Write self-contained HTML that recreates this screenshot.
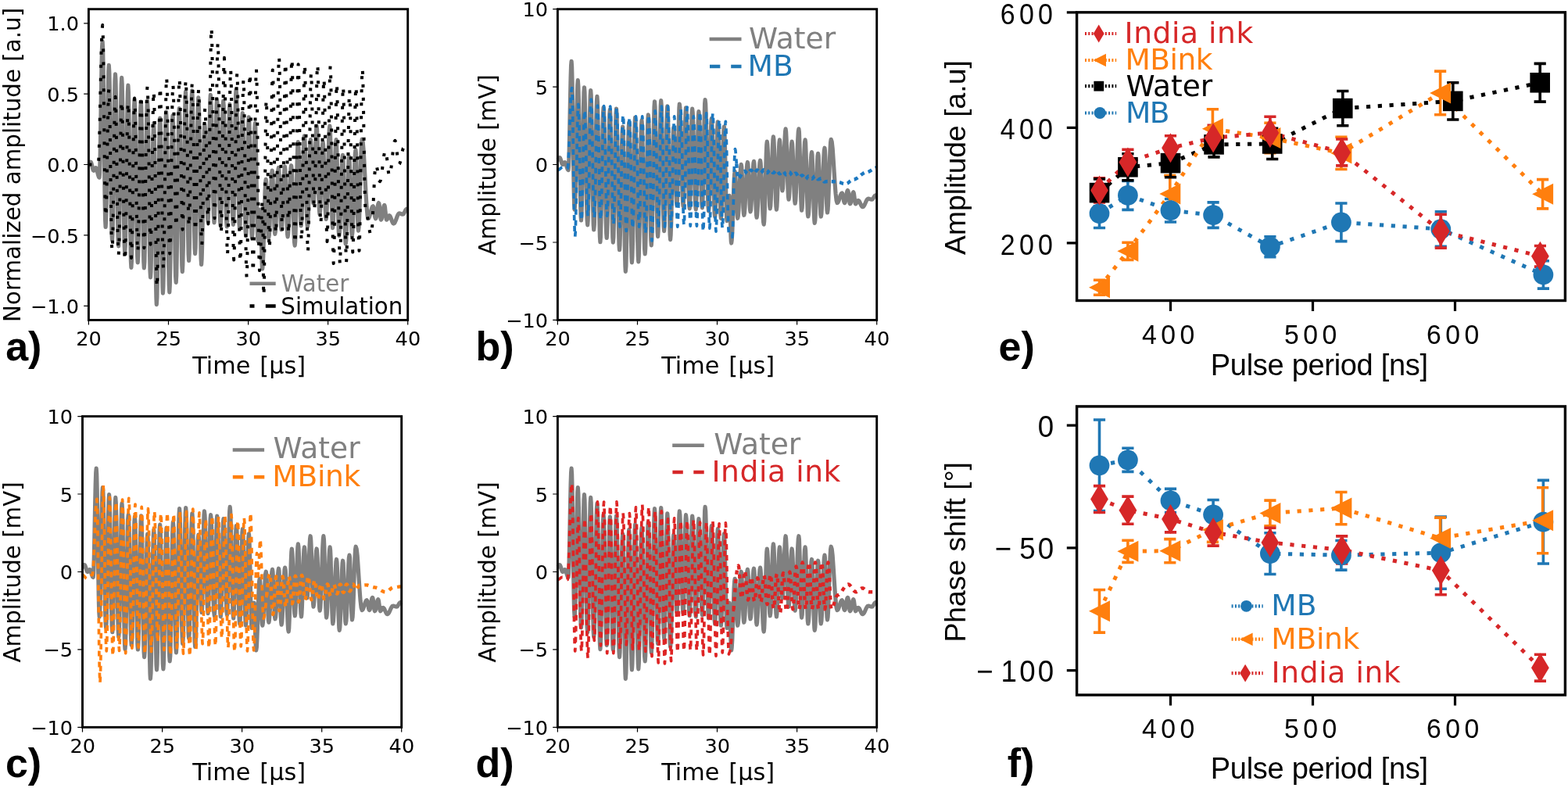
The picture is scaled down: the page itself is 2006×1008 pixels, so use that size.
<!DOCTYPE html>
<html lang="en"><head><meta charset="utf-8"><title>Figure</title>
<style>html,body{margin:0;padding:0;background:#fff}body{width:2006px;height:1008px;overflow:hidden}svg{display:block}</style>
</head><body>
<svg width="2006" height="1008" viewBox="0 0 2006 1008">
<g id="pa">
<path d="M113.4,210.9L113.7,210.7L114,210.3L114.3,209.7L114.6,209L114.9,208.3L115.2,207.7L115.5,207.3L115.8,207.1L116.4,207.6L116.9,208.8L117.4,210.6L117.9,212.7L118.4,214.9L118.9,216.7L119.4,217.9L119.9,218.3L120.3,218.2L120.6,217.8L120.9,217.2L121.3,216.5L121.6,215.7L121.9,215.1L122.3,214.7L122.6,214.6L123.1,215.1L123.7,216.4L124.3,218.4L124.8,220.8L125.4,223.2L126,225.2L126.5,226.6L127.1,227L127.6,220.4L128.1,201.5L128.6,173.3L129.1,140L129.6,106.6L130.1,78.4L130.6,59.5L131.1,52.9L131.6,61.9L132.1,87.7L132.6,126.2L133.1,171.7L133.6,217.1L134.1,255.7L134.6,281.4L135.1,290.5L135.6,282.6L136.2,260.1L136.7,226.5L137.2,186.9L137.7,147.2L138.3,113.6L138.8,91.2L139.3,83.3L139.8,91.8L140.4,116.1L140.9,152.5L141.4,195.5L141.9,238.4L142.5,274.8L143,299.2L143.5,307.7L144,299.6L144.5,276.5L145,242L145.5,201.3L146,160.5L146.5,126L147,102.9L147.5,94.8L148,103.2L148.5,127L149,162.7L149.6,204.9L150.1,247L150.6,282.7L151.1,306.5L151.7,314.9L152.2,306.7L152.7,283.3L153.2,248.4L153.7,207.1L154.2,165.9L154.7,130.9L155.2,107.6L155.7,99.4L156.2,107.9L156.7,132.1L157.2,168.3L157.7,211.1L158.2,253.8L158.7,290.1L159.2,314.3L159.7,322.8L160.3,314.6L160.8,291.5L161.3,256.8L161.8,216L162.3,175.1L162.9,140.5L163.4,117.3L163.9,109.2L164.4,118.1L164.9,143.4L165.4,181.2L165.9,225.8L166.4,270.4L166.9,308.3L167.4,333.5L167.9,342.4L168.4,334.2L168.9,310.8L169.5,275.9L170,234.6L170.5,193.4L171,158.4L171.6,135.1L172.1,126.9L172.6,134.8L173.1,157.5L173.6,191.4L174.1,231.4L174.6,271.4L175.1,305.3L175.7,327.9L176.2,335.9L176.7,328L177.2,305.7L177.7,272.4L178.3,233L178.8,193.7L179.3,160.3L179.8,138L180.4,130.2L180.8,138.3L181.3,161.3L181.8,195.8L182.3,236.5L182.8,277.2L183.3,311.7L183.8,334.7L184.3,342.8L184.9,334.7L185.4,311.5L185.9,276.8L186.4,235.8L186.9,194.9L187.5,160.2L188,137L188.5,128.9L189,137.5L189.5,161.9L190,198.6L190.5,241.8L191,285.1L191.5,321.8L192,346.2L192.5,354.8L193,347.3L193.5,326L194.1,294L194.6,256.3L195.1,218.5L195.6,186.5L196.2,165.2L196.7,157.7L197.1,166.5L197.6,191.6L198.1,229.2L198.5,273.6L199,318L199.4,355.6L199.9,380.7L200.3,389.6L200.9,380.5L201.4,354.6L202,316L202.5,270.3L203.1,224.7L203.6,186L204.2,160.2L204.7,151.1L205.2,159.6L205.7,183.9L206.1,220.3L206.6,263.1L207,306L207.5,342.3L208,366.6L208.4,375.1L208.9,366.3L209.5,341.1L210,303.5L210.5,259.1L211,214.6L211.5,177L212.1,151.8L212.6,143L213.1,151.8L213.6,176.8L214.2,214.2L214.7,258.4L215.2,302.6L215.7,340L216.3,365.1L216.8,373.8L217.3,365.2L217.8,340.7L218.4,304.1L218.9,260.8L219.4,217.6L219.9,180.9L220.4,156.4L221,147.8L221.5,156L222,179.1L222.5,213.8L223.1,254.6L223.6,295.5L224.1,330.1L224.6,353.3L225.2,361.4L225.7,352.9L226.2,328.8L226.7,292.7L227.3,250L227.8,207.4L228.3,171.3L228.8,147.1L229.3,138.7L229.8,146.6L230.3,169.3L230.8,203.2L231.3,243.2L231.8,283.1L232.3,317L232.8,339.7L233.3,347.6L233.8,338.9L234.4,313.9L234.9,276.6L235.4,232.5L235.9,188.4L236.5,151.1L237,126.1L237.5,117.3L238,125.6L238.5,149L239,184.1L239.6,225.4L240.1,266.8L240.6,301.8L241.1,325.3L241.6,333.5L242.1,325.2L242.6,301.6L243.1,266.3L243.6,224.6L244.1,183L244.7,147.6L245.2,124L245.7,115.8L246.2,123.7L246.6,146.4L247.1,180.3L247.6,220.2L248.1,260.2L248.6,294.1L249.1,316.8L249.6,324.7L250.1,317.1L250.6,295.5L251.2,263.1L251.7,224.8L252.2,186.6L252.8,154.2L253.3,132.5L253.8,124.9L254.3,133L254.8,156.2L255.3,190.8L255.7,231.7L256.2,272.6L256.7,307.2L257.1,330.4L257.6,338.5L258.1,331.6L258.7,312.2L259.2,283.1L259.7,248.7L260.2,214.4L260.8,185.3L261.3,165.8L261.8,159L262.3,163.7L262.8,177.2L263.4,197.4L263.9,221.2L264.4,245L264.9,265.2L265.5,278.7L266,283.5L266.4,277.3L266.8,259.7L267.2,233.4L267.7,202.4L268.1,171.3L268.5,145L268.9,127.4L269.3,121.3L269.9,127.5L270.5,145.2L271.1,171.7L271.7,203L272.3,234.3L272.9,260.8L273.5,278.6L274,284.8L274.5,278.8L274.9,261.7L275.3,236.2L275.8,206L276.2,175.9L276.6,150.3L277.1,133.3L277.5,127.3L278.1,133.4L278.7,150.9L279.3,177.1L279.9,208L280.4,238.9L281,265.1L281.6,282.6L282.2,288.7L282.6,282.6L283.1,265.3L283.5,239.5L283.9,208.9L284.4,178.4L284.8,152.5L285.2,135.2L285.7,129.1L286.2,135.2L286.8,152.7L287.4,178.8L288,209.6L288.5,240.4L289.1,266.5L289.7,283.9L290.3,290L290.7,284.1L291.2,267.1L291.7,241.7L292.1,211.7L292.6,181.8L293,156.4L293.5,139.4L293.9,133.4L294.5,139.3L295.1,156L295.6,181L296.2,210.4L296.8,239.9L297.3,264.9L297.9,281.5L298.4,287.4L298.9,280.8L299.4,262.1L299.8,234L300.3,200.9L300.7,167.8L301.2,139.8L301.6,121L302.1,114.4L302.7,121.2L303.2,140.5L303.8,169.4L304.4,203.5L304.9,237.6L305.5,266.5L306,285.9L306.6,292.6L307.1,287L307.5,271L308,246.9L308.4,218.6L308.9,190.3L309.4,166.3L309.8,150.2L310.3,144.6L310.8,150.6L311.4,167.6L311.9,193.1L312.5,223.2L313,253.3L313.6,278.8L314.1,295.8L314.7,301.8L315.1,296L315.6,279.5L316,254.9L316.5,225.8L317,196.7L317.4,172.1L317.9,155.6L318.3,149.8L318.8,155.7L319.4,172.4L319.9,197.5L320.4,227L320.9,256.6L321.4,281.7L321.9,298.4L322.4,304.3L322.9,298.7L323.4,282.8L323.9,259L324.4,231L324.9,202.9L325.4,179.1L325.9,163.2L326.4,157.6L326.8,163.4L327.3,179.7L327.7,204.2L328.2,233.1L328.7,261.9L329.1,286.4L329.6,302.8L330.1,308.5L330.4,307L330.8,302.6L331.2,296L331.6,288.3L332,280.6L332.3,274L332.7,269.6L333.1,268.1L333.4,271L333.7,279.2L334.1,291.5L334.4,306L334.7,320.5L335,332.8L335.3,341.1L335.7,343.9L336.2,339.6L336.8,327.2L337.3,308.6L337.9,286.7L338.5,264.8L339,246.2L339.6,233.8L340.2,229.4L340.6,232.3L341,240.4L341.5,252.5L341.9,266.9L342.4,281.2L342.8,293.3L343.3,301.4L343.7,304.3L344.3,301L344.9,291.7L345.4,277.6L346,261.1L346.5,244.6L347.1,230.6L347.7,221.3L348.2,218L348.7,221.1L349.1,229.9L349.6,243.1L350,258.7L350.5,274.3L350.9,287.5L351.4,296.3L351.8,299.4L352.4,296.1L353,286.9L353.5,273.2L354.1,256.9L354.7,240.7L355.3,226.9L355.8,217.7L356.4,214.5L356.9,217.5L357.3,226.1L357.8,238.9L358.2,254.1L358.7,269.3L359.1,282.2L359.6,290.8L360,293.8L360.6,290.7L361.1,282L361.7,268.9L362.2,253.4L362.8,238L363.4,224.9L363.9,216.1L364.5,213.1L364.9,216.5L365.4,226.2L365.8,240.8L366.3,258L366.7,275.2L367.2,289.7L367.6,299.5L368.1,302.9L368.6,299.4L369.2,289.5L369.8,274.7L370.3,257.3L370.9,239.8L371.4,225L372,215.1L372.6,211.7L373.1,215.6L373.7,226.7L374.3,243.3L374.9,262.9L375.4,282.5L376,299.1L376.6,310.2L377.2,314.1L377.7,309.1L378.2,294.7L378.7,273.2L379.2,247.8L379.8,222.4L380.3,200.9L380.8,186.5L381.3,181.5L381.8,185.6L382.3,197.2L382.8,214.6L383.3,235.2L383.8,255.7L384.3,273.1L384.7,284.8L385.2,288.9L385.8,284.5L386.3,272L386.8,253.3L387.3,231.3L387.8,209.3L388.4,190.6L388.9,178.2L389.4,173.8L389.9,178.2L390.4,190.8L390.9,209.7L391.4,232L391.9,254.3L392.4,273.2L392.9,285.8L393.4,290.3L393.9,286L394.4,273.9L394.9,255.8L395.4,234.5L395.9,213.1L396.4,195L396.9,182.9L397.4,178.7L397.8,181.8L398.3,190.6L398.7,203.8L399.1,219.4L399.6,235L400,248.2L400.5,257L400.9,260.1L401.5,256.3L402,245.6L402.5,229.6L403,210.6L403.5,191.7L404.1,175.6L404.6,164.9L405.1,161.2L405.6,165.5L406.1,177.7L406.6,196L407.1,217.6L407.5,239.3L408,257.6L408.5,269.8L409,274.1L409.5,270.6L410,260.6L410.5,245.5L411,227.8L411.5,210.1L412,195.1L412.6,185L413.1,181.5L413.6,185.3L414.1,196L414.6,212L415.1,231L415.6,249.9L416.2,266L416.7,276.7L417.2,280.4L417.8,275.9L418.4,263L419,243.6L419.6,220.8L420.1,198L420.7,178.6L421.3,165.7L421.9,161.2L422.4,166.1L422.8,180.3L423.3,201.4L423.8,226.4L424.2,251.4L424.7,272.6L425.2,286.7L425.6,291.7L426.2,287.4L426.7,275.1L427.3,256.8L427.9,235.2L428.4,213.6L429,195.2L429.5,183L430.1,178.7L430.6,183.4L431,196.7L431.5,216.6L432,240.1L432.4,263.6L432.9,283.5L433.3,296.8L433.8,301.5L434.4,297.6L435,286.4L435.6,269.6L436.2,249.9L436.7,230.2L437.3,213.4L437.9,202.3L438.5,198.3L439,202.7L439.4,215L439.9,233.4L440.4,255.2L440.8,276.9L441.3,295.4L441.8,307.7L442.2,312L442.8,307.8L443.3,295.7L443.9,277.6L444.4,256.2L445,234.9L445.5,216.8L446,204.7L446.6,200.4L447.1,204.3L447.5,215.2L448,231.6L448.4,251L448.9,270.3L449.4,286.7L449.8,297.6L450.3,301.5L450.9,297.3L451.5,285.4L452.1,267.6L452.6,246.5L453.2,225.5L453.8,207.7L454.4,195.8L455,191.6L455.4,195.5L455.9,206.8L456.3,223.6L456.7,243.4L457.2,263.2L457.6,280L458,291.2L458.5,295.2L459.1,290.7L459.7,278L460.2,259L460.8,236.6L461.4,214.2L462,195.2L462.6,182.4L463.2,178L464.2,181.9L465.2,192.9L466.1,209.4L467.1,228.9L468.1,248.3L469.1,264.8L470.1,275.9L471,279.7L471.8,279.1L472.6,277.4L473.4,274.8L474.1,271.8L474.9,268.7L475.7,266.1L476.4,264.4L477.2,263.8L477.6,264.4L478.1,266.1L478.5,268.7L478.9,271.8L479.3,274.8L479.7,277.4L480.2,279.1L480.6,279.7L481.1,279L481.6,276.8L482,273.5L482.5,269.7L483,265.8L483.5,262.5L484,260.4L484.5,259.6L484.9,260.4L485.3,262.7L485.6,266.2L486,270.4L486.4,274.5L486.8,278L487.1,280.3L487.5,281.1L488.1,280.4L488.6,278.4L489.1,275.4L489.7,271.8L490.2,268.2L490.7,265.1L491.3,263.1L491.8,262.4L492.1,263.1L492.5,265.1L492.8,268.2L493.2,271.8L493.5,275.4L493.9,278.4L494.2,280.4L494.6,281.1L495,280.9L495.4,280.3L495.9,279.5L496.3,278.4L496.7,277.4L497.1,276.5L497.5,275.9L498,275.7L498.7,276.1L499.4,277.2L500.1,278.9L500.8,280.9L501.5,282.9L502.2,284.5L502.9,285.7L503.6,286.1L504.5,285.6L505.4,284.1L506.3,282L507.2,279.5L508.1,277L509,274.8L509.9,273.4L510.9,272.9L511.4,273L512,273.1L512.5,273.3L513.1,273.5L513.7,273.8L514.2,274L514.8,274.1L515.3,274.1L516,273.9L516.6,273.1L517.2,272L517.9,270.7L518.5,269.4L519.1,268.3L519.8,267.6L520.4,267.3L520.6,267.3L520.7,267.2L520.9,267.2L521,267.1L521.2,267L521.4,266.9L521.5,266.8L521.7,266.8" fill="none" stroke="#808080" stroke-width="5.2" stroke-linejoin="round" stroke-linecap="butt"/>
<path d="M113.4,210.5L114.9,210.5L116.5,210.5L118,210.5L119.5,210.5L121.1,210.5L122.6,210.5L124.1,210.5L125.6,210.5L126.3,203.8L127,184.4L127.7,155.5L128.4,121.3L129.1,87.2L129.8,58.3L130.5,38.9L131.2,32.1L131.7,41.5L132.2,68.1L132.7,107.8L133.2,154.8L133.7,201.7L134.2,241.5L134.7,268.1L135.3,277.4L135.8,271.2L136.3,253.5L136.8,226.9L137.3,195.6L137.8,164.3L138.3,137.8L138.8,120.1L139.4,113.8L139.9,121.7L140.4,144.1L140.9,177.7L141.4,217.3L141.9,256.9L142.4,290.5L142.9,312.9L143.5,320.8L144,313.3L144.5,292L145,260L145.5,222.3L146,184.6L146.5,152.6L147,131.3L147.6,123.8L148.1,131.5L148.6,153.4L149.1,186.3L149.6,225L150.1,263.8L150.6,296.6L151.1,318.5L151.7,326.2L152.2,318.7L152.7,297.4L153.2,265.4L153.7,227.7L154.2,190L154.7,158.1L155.2,136.7L155.8,129.2L156.3,137L156.8,159.1L157.3,192.3L157.8,231.3L158.3,270.4L158.8,303.6L159.3,325.7L159.8,333.5L160.4,325.8L160.9,303.8L161.4,271L161.9,232.2L162.4,193.5L162.9,160.7L163.4,138.7L163.9,131L164.5,138.6L165,160.1L165.5,192.4L166,230.4L166.5,268.5L167,300.7L167.5,322.3L168,329.9L168.6,322.1L169.1,299.9L169.6,266.8L170.1,227.7L170.6,188.6L171.1,155.5L171.6,133.4L172.1,125.6L172.7,133.1L173.2,154.4L173.7,186.4L174.2,224.1L174.7,261.8L175.2,293.8L175.7,315.1L176.2,322.6L176.8,315L177.3,293.2L177.8,260.7L178.3,222.3L178.8,183.9L179.3,151.4L179.8,129.6L180.3,122L180.9,129.4L181.4,150.6L181.9,182.2L182.4,219.6L182.9,256.9L183.4,288.6L183.9,309.8L184.4,317.2L185,309.3L185.5,286.9L186,253.3L186.5,213.7L187,174.1L187.5,140.5L188,118.1L188.5,110.2L189,117.9L189.6,139.9L190.1,172.7L190.6,211.5L191.1,250.2L191.6,283L192.1,305L192.6,312.7L193.1,305.2L193.7,284L194.2,252.1L194.7,214.6L195.2,177.1L195.7,145.3L196.2,124L196.7,116.5L197.2,126.1L197.8,153.3L198.3,194.1L198.8,242.2L199.3,290.3L199.8,331L200.3,358.3L200.8,367.8L201.3,358.1L201.9,330.2L202.4,288.6L202.9,239.5L203.4,190.4L203.9,148.7L204.4,120.9L204.9,111.1L205.4,120L206,145.3L206.5,183.1L207,227.7L207.5,272.3L208,310.2L208.5,335.4L209,344.3L209.5,335L210.1,308.3L210.6,268.4L211.1,221.4L211.6,174.4L212.1,134.5L212.6,107.8L213.1,98.5L213.6,107.1L214.2,131.6L214.7,168.2L215.2,211.5L215.7,254.7L216.2,291.3L216.7,315.8L217.2,324.4L217.7,316.2L218.3,292.7L218.8,257.5L219.3,216L219.8,174.5L220.3,139.3L220.8,115.8L221.3,107.5L221.8,114.5L222.3,134.2L222.9,163.9L223.4,198.8L223.9,233.7L224.4,263.4L224.9,283.1L225.4,290.1L225.9,282.9L226.4,262.3L227,231.5L227.5,195.2L228,158.9L228.5,128.1L229,107.5L229.5,100.3L230,107.6L230.5,128.6L231.1,160L231.6,197L232.1,234L232.6,265.4L233.1,286.3L233.6,293.7L234.1,286.4L234.6,265.6L235.2,234.6L235.7,197.9L236.2,161.2L236.7,130.1L237.2,109.4L237.7,102.1L238.2,109.2L238.7,129.6L239.3,160.1L239.8,196.1L240.3,232.1L240.8,262.6L241.3,282.9L241.8,290.1L242.3,283L242.8,263L243.4,232.9L243.9,197.4L244.4,162L244.9,131.9L245.4,111.9L245.9,104.8L246.4,112.1L246.9,132.7L247.5,163.7L248,200.2L248.5,236.6L249,267.6L249.5,288.3L250,295.5L250.5,288.6L251,269L251.5,239.7L252.1,205.1L252.6,170.5L253.1,141.2L253.6,121.6L254.1,114.7L254.6,122.3L255.1,143.9L255.6,176.1L256.2,214.2L256.7,252.2L257.2,284.5L257.7,306L258.2,313.6L258.7,306.9L259.2,287.9L259.7,259.5L260.3,225.9L260.8,192.4L261.3,163.9L261.8,144.9L262.3,138.2L262.8,143.9L263.3,159.9L263.8,184L264.4,212.4L264.9,240.7L265.4,264.8L265.9,280.8L266.4,286.5L266.9,276.9L267.4,249.7L267.9,209L268.5,160.9L269,112.9L269.5,72.2L270,44.9L270.5,35.4L271,44.7L271.5,71.1L272,110.7L272.6,157.3L273.1,204L273.6,243.5L274.1,270L274.6,279.2L275.1,270.7L275.6,246.3L276.1,209.8L276.7,166.8L277.2,123.8L277.7,87.3L278.2,62.9L278.7,54.4L279.2,63.7L279.7,90.2L280.2,129.9L280.7,176.7L281.3,223.6L281.8,263.3L282.3,289.8L282.8,299.1L283.3,290.5L283.8,266.1L284.3,229.5L284.8,186.4L285.4,143.3L285.9,106.7L286.4,82.3L286.9,73.7L287.4,83.3L287.9,110.7L288.4,151.7L288.9,200L289.5,248.3L290,289.3L290.5,316.6L291,326.2L291.5,317.2L292,291.4L292.5,252.9L293,207.4L293.6,161.9L294.1,123.3L294.6,97.6L295.1,88.5L295.6,97.8L296.1,124.3L296.6,163.9L297.1,210.5L297.7,257.2L298.2,296.8L298.7,323.3L299.2,332.6L299.7,323.5L300.2,297.5L300.7,258.6L301.2,212.8L301.8,167L302.3,128.1L302.8,102.2L303.3,93L303.8,102.3L304.3,128.5L304.8,167.8L305.3,214.2L305.9,260.5L306.4,299.8L306.9,326.1L307.4,335.3L307.9,326.4L308.4,301L308.9,263L309.4,218.2L309.9,173.4L310.5,135.5L311,110.1L311.5,101.2L312,110.8L312.5,138.4L313,179.6L313.5,228.2L314,276.8L314.6,318L315.1,345.5L315.6,355.2L316.1,345.2L316.6,316.9L317.1,274.5L317.6,224.5L318.1,174.5L318.7,132.1L319.2,103.7L319.7,93.8L320.2,103.4L320.7,131L321.2,172.2L321.7,220.9L322.2,269.5L322.8,310.7L323.3,338.3L323.8,347.9L324.3,338L324.8,309.8L325.3,267.6L325.8,217.8L326.3,168L326.9,125.7L327.4,97.5L327.9,87.6L328.4,97.5L328.9,125.5L329.4,167.4L329.9,216.9L330.4,266.3L331,308.3L331.5,336.3L332,346.1L332.5,342.7L333,332.9L333.5,318.2L334,300.9L334.4,283.6L334.9,269L335.4,259.2L335.9,255.7L336.1,260.4L336.3,273.7L336.5,293.7L336.6,317.2L336.8,340.7L337,360.7L337.2,374L337.4,378.7L337.8,369.1L338.2,341.9L338.6,301.1L339,253L339.4,205L339.8,164.2L340.2,137L340.6,127.4L341.1,134.7L341.6,155.3L342.2,186.3L342.7,222.8L343.2,259.2L343.7,290.2L344.2,310.9L344.7,318.1L345.2,309.4L345.7,284.6L346.3,247.5L346.8,203.8L347.3,160L347.8,122.9L348.3,98.1L348.8,89.4L349.3,97.4L349.8,120.1L350.4,154.2L350.9,194.3L351.4,234.4L351.9,268.4L352.4,291.1L352.9,299.1L353.4,290.5L353.9,265.9L354.5,229.1L355,185.7L355.5,142.3L356,105.5L356.5,80.9L357,72.3L357.5,80.8L358,105L358.5,141.2L359.1,183.9L359.6,226.6L360.1,262.8L360.6,287L361.1,295.5L361.6,287.3L362.1,264L362.6,229.1L363.2,188L363.7,146.8L364.2,111.9L364.7,88.6L365.2,80.4L365.7,88.7L366.2,112.4L366.7,147.9L367.3,189.8L367.8,231.6L368.3,267.1L368.8,290.8L369.3,299.1L369.8,290.6L370.3,266.3L370.8,229.9L371.4,187L371.9,144.2L372.4,107.8L372.9,83.5L373.4,75L373.9,84L374.4,109.7L374.9,148.1L375.5,193.4L376,238.7L376.5,277.1L377,302.8L377.5,311.8L378,303L378.5,278.2L379,240.9L379.6,197L380.1,153.1L380.6,115.8L381.1,90.9L381.6,82.2L382.1,90.8L382.6,115.3L383.1,151.9L383.7,195.2L384.2,238.4L384.7,275.1L385.2,299.6L385.7,308.2L386.2,299.6L386.7,275.1L387.2,238.4L387.7,195.2L388.3,151.9L388.8,115.3L389.3,90.8L389.8,82.2L390.3,91.4L390.8,117.4L391.3,156.4L391.8,202.4L392.4,248.4L392.9,287.4L393.4,313.5L393.9,322.6L394.4,313.9L394.9,289L395.4,251.8L395.9,207.8L396.5,163.9L397,126.7L397.5,101.8L398,93L398.5,99.8L399,118.9L399.5,147.4L400,181.2L400.6,214.9L401.1,243.5L401.6,262.6L402.1,269.3L402.6,262.2L403.1,241.9L403.6,211.6L404.1,175.8L404.7,140L405.2,109.6L405.7,89.3L406.2,82.2L406.7,90L407.2,112.1L407.7,145.3L408.2,184.3L408.8,223.4L409.3,256.6L409.8,278.7L410.3,286.5L410.8,279.4L411.3,259.2L411.8,229L412.3,193.4L412.9,157.7L413.4,127.5L413.9,107.4L414.4,100.3L414.9,108.2L415.4,130.9L415.9,164.7L416.4,204.7L416.9,244.6L417.5,278.5L418,301.1L418.5,309.1L419,300.5L419.5,276.1L420,239.6L420.5,196.5L421,153.5L421.6,117L422.1,92.6L422.6,84L423.1,93.6L423.6,121.1L424.1,162.1L424.6,210.5L425.1,259L425.7,300L426.2,327.5L426.7,337.1L427.2,328.3L427.7,303.3L428.2,265.9L428.7,221.8L429.2,177.7L429.8,140.4L430.3,115.4L430.8,106.6L431.3,115.4L431.8,140.5L432.3,178L432.8,222.3L433.3,266.6L433.9,304.1L434.4,329.2L434.9,338L435.4,329.3L435.9,304.6L436.4,267.7L436.9,224.1L437.4,180.5L438,143.6L438.5,118.9L439,110.2L439.5,118.8L440,143.2L440.5,179.7L441,222.8L441.5,265.8L442.1,302.3L442.6,326.7L443.1,335.3L443.6,326.9L444.1,303L444.6,267.2L445.1,225L445.6,182.8L446.2,147L446.7,123.1L447.2,114.7L447.7,122.7L448.2,145.2L448.7,178.9L449.2,218.7L449.7,258.5L450.2,292.2L450.8,314.7L451.3,322.6L451.8,314.5L452.3,291.5L452.8,257.1L453.3,216.4L453.8,175.8L454.3,141.3L454.9,118.3L455.4,110.2L455.9,118.2L456.4,141.1L456.9,175.2L457.4,215.5L457.9,255.8L458.4,290L459,312.8L459.5,320.8L460,311.9L460.5,286.7L461,248.8L461.5,204.2L462,159.6L462.5,121.8L463.1,96.5L463.6,87.6L464.1,94.5L464.6,114.1L465.1,143.4L465.6,178L466.1,212.6L466.6,241.9L467.2,261.5L467.7,268.4L468.6,269.6L469.4,273.2L470.3,278.4L471.2,284.7L472.1,290.9L473,296.2L473.9,299.7L474.7,300.9L475.5,297.5L476.3,287.7L477,273L477.8,255.7L478.6,238.4L479.3,223.8L480.1,214L480.9,210.5L481.5,211.4L482.1,213.7L482.8,217.2L483.4,221.4L484.1,225.5L484.7,229.1L485.3,231.4L486,232.2L486.9,230.7L487.8,226.4L488.7,220L489.5,212.4L490.4,204.7L491.3,198.3L492.2,194L493.1,192.5L493.8,193.7L494.4,197.2L495,202.5L495.7,208.7L496.3,215L496.9,220.2L497.6,223.8L498.2,225L499.1,223.3L500,218.4L500.9,211.1L501.8,202.4L502.7,193.8L503.6,186.4L504.5,181.5L505.4,179.8L506,181L506.6,184.3L507.3,189.3L507.9,195.2L508.6,201.1L509.2,206L509.8,209.4L510.5,210.5L511.2,209.7L512,207.4L512.8,203.9L513.5,199.7L514.3,195.6L515.1,192L515.8,189.7L516.6,188.9L517.2,189.1L517.9,189.9L518.5,191.1L519.1,192.5L519.8,193.9L520.4,195L521.1,195.8L521.7,196.1" fill="none" stroke="#000" stroke-width="4.0" stroke-dasharray="4 13" stroke-linejoin="round"/>
<path d="M113.4,409.4v6.2M215.5,409.4v6.2M317.6,409.4v6.2M419.6,409.4v6.2M521.7,409.4v6.2M113.4,29.8h-6.2M113.4,120.2h-6.2M113.4,210.5h-6.2M113.4,300.9h-6.2M113.4,391.3h-6.2" stroke="#000" stroke-width="1.2" fill="none"/>
<text x="113.6" y="441.6" font-family='"DejaVu Sans", "Liberation Sans", sans-serif' font-size="25.6" text-anchor="middle" fill="#000">20</text>
<text x="215.68" y="441.6" font-family='"DejaVu Sans", "Liberation Sans", sans-serif' font-size="25.6" text-anchor="middle" fill="#000">25</text>
<text x="317.75" y="441.6" font-family='"DejaVu Sans", "Liberation Sans", sans-serif' font-size="25.6" text-anchor="middle" fill="#000">30</text>
<text x="419.82" y="441.6" font-family='"DejaVu Sans", "Liberation Sans", sans-serif' font-size="25.6" text-anchor="middle" fill="#000">35</text>
<text x="521.9" y="441.6" font-family='"DejaVu Sans", "Liberation Sans", sans-serif' font-size="25.6" text-anchor="middle" fill="#000">40</text>
<text x="101" y="39.38" font-family='"DejaVu Sans", "Liberation Sans", sans-serif' font-size="25.6" text-anchor="end" fill="#000">1.0</text>
<text x="101" y="129.76" font-family='"DejaVu Sans", "Liberation Sans", sans-serif' font-size="25.6" text-anchor="end" fill="#000">0.5</text>
<text x="101" y="220.15" font-family='"DejaVu Sans", "Liberation Sans", sans-serif' font-size="25.6" text-anchor="end" fill="#000">0.0</text>
<text x="101" y="310.54" font-family='"DejaVu Sans", "Liberation Sans", sans-serif' font-size="25.6" text-anchor="end" fill="#000">−0.5</text>
<text x="101" y="400.92" font-family='"DejaVu Sans", "Liberation Sans", sans-serif' font-size="25.6" text-anchor="end" fill="#000">−1.0</text>
<rect x="113.4" y="11.7" width="408.3" height="397.7" fill="none" stroke="#000" stroke-width="2.9"/>
<text x="318.65" y="477.5" font-family='"DejaVu Sans", "Liberation Sans", sans-serif' font-size="30.3" text-anchor="middle" fill="#000" word-spacing="2.3">Time [µs]</text>
<text transform="translate(26,210.9) rotate(-90)" font-family='"DejaVu Sans", "Liberation Sans", sans-serif' font-size="29.35" text-anchor="middle" fill="#000">Normalized amplitude [a.u]</text>
<text x="7.2" y="460.9" font-family='"Liberation Sans", "DejaVu Sans", sans-serif' font-size="52" text-anchor="start" fill="#000" font-weight="bold">a)</text>
</g>
<g id="pb">
<path d="M713.4,204.6L713.7,204.5L714,204.1L714.3,203.7L714.6,203.1L714.9,202.5L715.2,202L715.5,201.7L715.8,201.6L716.4,201.9L716.9,202.9L717.4,204.4L717.9,206.1L718.4,207.8L718.9,209.2L719.4,210.2L719.9,210.5L720.3,210.4L720.6,210.1L720.9,209.6L721.3,209.1L721.6,208.5L721.9,208L722.3,207.7L722.6,207.6L723.1,207.9L723.7,209L724.3,210.6L724.8,212.5L725.4,214.4L726,216.1L726.5,217.1L727.1,217.5L727.6,212.2L728.1,197.1L728.6,174.5L729.1,147.9L729.6,121.3L730.1,98.7L730.6,83.6L731.1,78.3L731.6,85.5L732.1,106.1L732.6,136.9L733.1,173.3L733.6,209.6L734.1,240.4L734.6,261L735.1,268.2L735.6,261.9L736.2,244L736.7,217.1L737.2,185.4L737.7,153.7L738.3,126.8L738.8,108.9L739.3,102.6L739.8,109.4L740.4,128.9L740.9,158L741.4,192.3L741.9,226.6L742.5,255.7L743,275.2L743.5,282L744,275.5L744.5,257.1L745,229.5L745.5,196.9L746,164.3L746.5,136.7L747,118.3L747.5,111.8L748,118.5L748.5,137.6L749,166.1L749.6,199.8L750.1,233.4L750.6,262L751.1,281.1L751.7,287.8L752.2,281.2L752.7,262.5L753.2,234.6L753.7,201.6L754.2,168.6L754.7,140.7L755.2,122L755.7,115.5L756.2,122.3L756.7,141.6L757.2,170.6L757.7,204.8L758.2,238.9L758.7,267.9L759.2,287.2L759.7,294L760.3,287.5L760.8,269L761.3,241.3L761.8,208.7L762.3,176L762.9,148.3L763.4,129.8L763.9,123.3L764.4,130.4L764.9,150.6L765.4,180.9L765.9,216.5L766.4,252.2L766.9,282.4L767.4,302.6L767.9,309.7L768.4,303.2L768.9,284.5L769.5,256.6L770,223.6L770.5,190.6L771,162.7L771.6,144L772.1,137.5L772.6,143.8L773.1,161.9L773.6,189L774.1,221L774.6,252.9L775.1,280L775.7,298.2L776.2,304.5L776.7,298.3L777.2,280.4L777.7,253.8L778.3,222.3L778.8,190.8L779.3,164.2L779.8,146.3L780.4,140.1L780.8,146.5L781.3,165L781.8,192.5L782.3,225.1L782.8,257.6L783.3,285.2L783.8,303.6L784.3,310.1L784.9,303.5L785.4,285L785.9,257.3L786.4,224.5L786.9,191.8L787.5,164.1L788,145.5L788.5,139L789,145.9L789.5,165.5L790,194.8L790.5,229.4L791,263.9L791.5,293.2L792,312.8L792.5,319.7L793,313.7L793.5,296.6L794.1,271L794.6,240.9L795.1,210.7L795.6,185.1L796.2,168.1L796.7,162.1L797.1,169.1L797.6,189.2L798.1,219.3L798.5,254.7L799,290.2L799.4,320.3L799.9,340.4L800.3,347.4L800.9,340.2L801.4,319.5L802,288.6L802.5,252.1L803.1,215.7L803.6,184.7L804.2,164.1L804.7,156.8L805.2,163.6L805.7,183L806.1,212.1L806.6,246.4L807,280.6L807.5,309.7L808,329.1L808.4,335.9L808.9,328.9L809.5,308.7L810,278.6L810.5,243.1L811,207.6L811.5,177.5L812.1,157.4L812.6,150.3L813.1,157.4L813.6,177.4L814.2,207.3L814.7,242.6L815.2,277.9L815.7,307.8L816.3,327.8L816.8,334.9L817.3,328L817.8,308.4L818.4,279.1L818.9,244.5L819.4,210L819.9,180.7L820.4,161.1L821,154.2L821.5,160.7L822,179.2L822.5,206.9L823.1,239.6L823.6,272.2L824.1,299.9L824.6,318.4L825.2,324.9L825.7,318.1L826.2,298.9L826.7,270L827.3,235.9L827.8,201.8L828.3,173L828.8,153.7L829.3,146.9L829.8,153.2L830.3,171.3L830.8,198.4L831.3,230.4L831.8,262.4L832.3,289.5L832.8,307.6L833.3,313.9L833.8,306.9L834.4,287L834.9,257.1L835.4,221.9L835.9,186.6L836.5,156.8L837,136.8L837.5,129.8L838,136.4L838.5,155.1L839,183.2L839.6,216.2L840.1,249.3L840.6,277.3L841.1,296L841.6,302.6L842.1,296L842.6,277.1L843.1,248.9L843.6,215.6L844.1,182.3L844.7,154L845.2,135.2L845.7,128.6L846.2,134.9L846.6,153L847.1,180.1L847.6,212.1L848.1,244L848.6,271.1L849.1,289.3L849.6,295.6L850.1,289.5L850.6,272.2L851.2,246.3L851.7,215.7L852.2,185.2L852.8,159.3L853.3,142L853.8,135.9L854.3,142.4L854.8,160.9L855.3,188.6L855.7,221.2L856.2,253.9L856.7,281.6L857.1,300.1L857.6,306.6L858.1,301.1L858.7,285.6L859.2,262.3L859.7,234.9L860.2,207.4L860.8,184.1L861.3,168.6L861.8,163.1L862.3,166.9L862.8,177.7L863.4,193.8L863.9,212.9L864.4,231.9L864.9,248.1L865.5,258.8L866,262.6L866.4,257.7L866.8,243.6L867.2,222.6L867.7,197.8L868.1,173L868.5,151.9L868.9,137.9L869.3,133L869.9,137.9L870.5,152.1L871.1,173.3L871.7,198.3L872.3,223.3L872.9,244.5L873.5,258.7L874,263.7L874.5,258.9L874.9,245.2L875.3,224.8L875.8,200.7L876.2,176.6L876.6,156.2L877.1,142.6L877.5,137.8L878.1,142.7L878.7,156.7L879.3,177.6L879.9,202.3L880.4,227L881,247.9L881.6,261.9L882.2,266.8L882.6,262L883.1,248.1L883.5,227.4L883.9,203L884.4,178.6L884.8,157.9L885.2,144.1L885.7,139.2L886.2,144.1L886.8,158.1L887.4,178.9L888,203.6L888.5,228.2L889.1,249L889.7,263L890.3,267.9L890.7,263.1L891.2,249.5L891.7,229.2L892.1,205.3L892.6,181.3L893,161L893.5,147.5L893.9,142.7L894.5,147.4L895.1,160.7L895.6,180.7L896.2,204.2L896.8,227.8L897.3,247.7L897.9,261.1L898.4,265.8L898.9,260.5L899.4,245.5L899.8,223.1L900.3,196.6L900.7,170.2L901.2,147.8L901.6,132.8L902.1,127.5L902.7,132.9L903.2,148.4L903.8,171.5L904.4,198.7L904.9,226L905.5,249.1L906,264.5L906.6,270L907.1,265.5L907.5,252.6L908,233.4L908.4,210.8L908.9,188.1L909.4,168.9L909.8,156.1L910.3,151.6L910.8,156.4L911.4,170L911.9,190.4L912.5,214.4L913,238.5L913.6,258.9L914.1,272.5L914.7,277.3L915.1,272.7L915.6,259.5L916,239.8L916.5,216.5L917,193.3L917.4,173.6L917.9,160.4L918.3,155.8L918.8,160.5L919.4,173.9L919.9,193.9L920.4,217.5L920.9,241.2L921.4,261.2L921.9,274.6L922.4,279.3L922.9,274.8L923.4,262.1L923.9,243.1L924.4,220.7L924.9,198.2L925.4,179.2L925.9,166.5L926.4,162L926.8,166.6L927.3,179.7L927.7,199.3L928.2,222.3L928.7,245.4L929.1,265L929.6,278.1L930.1,282.6L930.4,281.4L930.8,277.9L931.2,272.7L931.6,266.5L932,260.3L932.3,255.1L932.7,251.6L933.1,250.3L933.4,252.6L933.7,259.2L934.1,269L934.4,280.6L934.7,292.2L935,302.1L935.3,308.7L935.7,311L936.2,307.5L936.8,297.6L937.3,282.7L937.9,265.2L938.5,247.7L939,232.8L939.6,222.9L940.2,219.4L940.6,221.7L941,228.2L941.5,237.9L941.9,249.3L942.4,260.8L942.8,270.5L943.3,277L943.7,279.3L944.3,276.6L944.9,269.2L945.4,258L946,244.8L946.5,231.6L947.1,220.4L947.7,212.9L948.2,210.3L948.7,212.7L949.1,219.8L949.6,230.4L950,242.8L950.5,255.3L950.9,265.8L951.4,272.9L951.8,275.3L952.4,272.8L953,265.4L953.5,254.4L954.1,241.4L954.7,228.4L955.3,217.4L955.8,210.1L956.4,207.5L956.9,209.9L957.3,216.8L957.8,227L958.2,239.2L958.7,251.3L959.1,261.6L959.6,268.5L960,270.9L960.6,268.4L961.1,261.4L961.7,250.9L962.2,238.6L962.8,226.3L963.4,215.8L963.9,208.8L964.5,206.3L964.9,209.1L965.4,216.9L965.8,228.5L966.3,242.2L966.7,256L967.2,267.6L967.6,275.4L968.1,278.2L968.6,275.4L969.2,267.5L969.8,255.6L970.3,241.7L970.9,227.7L971.4,215.9L972,208L972.6,205.2L973.1,208.3L973.7,217.2L974.3,230.5L974.9,246.2L975.4,261.8L976,275.1L976.6,284L977.2,287.1L977.7,283.1L978.2,271.6L978.7,254.4L979.2,234.1L979.8,213.8L980.3,196.6L980.8,185.1L981.3,181.1L981.8,184.4L982.3,193.7L982.8,207.6L983.3,224L983.8,240.4L984.3,254.4L984.7,263.7L985.2,266.9L985.8,263.4L986.3,253.5L986.8,238.5L987.3,220.9L987.8,203.3L988.4,188.4L988.9,178.4L989.4,174.9L989.9,178.5L990.4,188.6L990.9,203.7L991.4,221.5L991.9,239.3L992.4,254.4L992.9,264.5L993.4,268.1L993.9,264.7L994.4,255L994.9,240.5L995.4,223.5L995.9,206.4L996.4,191.9L996.9,182.3L997.4,178.9L997.8,181.3L998.3,188.4L998.7,199L999.1,211.4L999.6,223.9L1000,234.4L1000.5,241.5L1000.9,243.9L1001.5,240.9L1002,232.4L1002.5,219.5L1003,204.4L1003.5,189.3L1004.1,176.4L1004.6,167.9L1005.1,164.8L1005.6,168.3L1006.1,178.1L1006.6,192.7L1007.1,210L1007.5,227.3L1008,241.9L1008.5,251.7L1009,255.2L1009.5,252.3L1010,244.3L1010.5,232.3L1011,218.1L1011.5,204L1012,192L1012.6,183.9L1013.1,181.1L1013.6,184.1L1014.1,192.7L1014.6,205.5L1015.1,220.7L1015.6,235.8L1016.2,248.6L1016.7,257.2L1017.2,260.2L1017.8,256.6L1018.4,246.2L1019,230.8L1019.6,212.5L1020.1,194.3L1020.7,178.8L1021.3,168.5L1021.9,164.8L1022.4,168.8L1022.8,180.1L1023.3,197.1L1023.8,217L1024.2,237L1024.7,253.9L1025.2,265.2L1025.6,269.2L1026.2,265.7L1026.7,256L1027.3,241.3L1027.9,224L1028.4,206.7L1029,192.1L1029.5,182.3L1030.1,178.9L1030.6,182.6L1031,193.2L1031.5,209.2L1032,227.9L1032.4,246.7L1032.9,262.7L1033.3,273.3L1033.8,277L1034.4,273.9L1035,265L1035.6,251.6L1036.2,235.8L1036.7,220L1037.3,206.6L1037.9,197.7L1038.5,194.6L1039,198L1039.4,207.9L1039.9,222.6L1040.4,240L1040.8,257.4L1041.3,272.1L1041.8,282L1042.2,285.4L1042.8,282L1043.3,272.4L1043.9,257.9L1044.4,240.8L1045,223.8L1045.5,209.3L1046,199.6L1046.6,196.3L1047.1,199.3L1047.5,208.1L1048,221.2L1048.4,236.6L1048.9,252.1L1049.4,265.2L1049.8,274L1050.3,277L1050.9,273.7L1051.5,264.2L1052.1,249.9L1052.6,233.1L1053.2,216.3L1053.8,202.1L1054.4,192.5L1055,189.2L1055.4,192.3L1055.9,201.3L1056.3,214.7L1056.7,230.6L1057.2,246.4L1057.6,259.9L1058,268.8L1058.5,272L1059.1,268.4L1059.7,258.3L1060.2,243.1L1060.8,225.1L1061.4,207.2L1062,192L1062.6,181.9L1063.2,178.3L1064.2,181.4L1065.2,190.2L1066.1,203.4L1067.1,219L1068.1,234.5L1069.1,247.7L1070.1,256.6L1071,259.6L1071.8,259.2L1072.6,257.8L1073.4,255.7L1074.1,253.3L1074.9,250.8L1075.7,248.8L1076.4,247.4L1077.2,246.9L1077.6,247.4L1078.1,248.8L1078.5,250.8L1078.9,253.3L1079.3,255.7L1079.7,257.8L1080.2,259.2L1080.6,259.6L1081.1,259L1081.6,257.3L1082,254.7L1082.5,251.6L1083,248.5L1083.5,245.9L1084,244.2L1084.5,243.5L1084.9,244.2L1085.3,246.1L1085.6,248.9L1086,252.2L1086.4,255.5L1086.8,258.2L1087.1,260.1L1087.5,260.8L1088.1,260.2L1088.6,258.6L1089.1,256.1L1089.7,253.3L1090.2,250.4L1090.7,248L1091.3,246.4L1091.8,245.8L1092.1,246.4L1092.5,248L1092.8,250.4L1093.2,253.3L1093.5,256.1L1093.9,258.6L1094.2,260.2L1094.6,260.8L1095,260.6L1095.4,260.1L1095.9,259.4L1096.3,258.6L1096.7,257.8L1097.1,257.1L1097.5,256.6L1098,256.4L1098.7,256.8L1099.4,257.6L1100.1,259L1100.8,260.6L1101.5,262.1L1102.2,263.5L1102.9,264.4L1103.6,264.7L1104.5,264.3L1105.4,263.2L1106.3,261.5L1107.2,259.4L1108.1,257.4L1109,255.7L1109.9,254.6L1110.9,254.2L1111.4,254.2L1112,254.3L1112.5,254.5L1113.1,254.7L1113.7,254.9L1114.2,255L1114.8,255.1L1115.3,255.2L1116,255L1116.6,254.4L1117.2,253.5L1117.9,252.4L1118.5,251.4L1119.1,250.5L1119.8,249.9L1120.4,249.7L1120.6,249.7L1120.7,249.7L1120.9,249.6L1121,249.5L1121.2,249.4L1121.4,249.4L1121.5,249.3L1121.7,249.3" fill="none" stroke="#808080" stroke-width="5.2" stroke-linejoin="round" stroke-linecap="butt"/>
<path d="M713.4,217.5L714.3,217.4L715.2,216.9L716.1,216.3L717,215.5L717.9,214.8L718.8,214.1L719.7,213.7L720.5,213.5L721.2,213.6L721.9,213.8L722.6,214.1L723.3,214.5L724,214.9L724.7,215.2L725.4,215.4L726.1,215.5L726.7,211.6L727.4,200.4L728.1,183.7L728.8,164L729.5,144.3L730.2,127.6L730.9,116.4L731.6,112.5L732.1,119.8L732.6,140.4L733.1,171.3L733.6,207.7L734.1,244.1L734.6,274.9L735.2,295.6L735.7,302.8L736.2,296.4L736.7,278L737.2,250.5L737.7,218.1L738.2,185.7L738.7,158.2L739.3,139.8L739.8,133.4L740.3,139.1L740.8,155.2L741.3,179.3L741.8,207.8L742.3,236.2L742.8,260.4L743.4,276.5L743.9,282.1L744.4,276.8L744.9,261.4L745.4,238.5L745.9,211.4L746.4,184.4L746.9,161.5L747.5,146.1L748,140.8L748.5,145.9L749,160.6L749.5,182.6L750,208.5L750.5,234.4L751,256.3L751.5,271L752.1,276.2L752.6,270.5L753.1,254.3L753.6,230.1L754.1,201.6L754.6,173.1L755.1,148.9L755.6,132.7L756.2,127L756.7,132.8L757.2,149.2L757.7,173.7L758.2,202.6L758.7,231.5L759.2,256L759.7,272.4L760.3,278.2L760.8,272.7L761.3,257.2L761.8,234L762.3,206.6L762.8,179.2L763.3,156L763.8,140.4L764.4,135L764.9,140.5L765.4,156.4L765.9,180.1L766.4,208.1L766.9,236L767.4,259.7L767.9,275.6L768.5,281.1L769,275.6L769.5,259.8L770,236.2L770.5,208.4L771,180.5L771.5,156.9L772,141.1L772.6,135.6L773.1,140.9L773.6,156.2L774.1,179L774.6,205.9L775.1,232.8L775.6,255.6L776.1,270.8L776.7,276.2L777.2,270.8L777.7,255.6L778.2,232.9L778.7,206.1L779.2,179.3L779.7,156.5L780.2,141.3L780.7,136L781.3,141.7L781.8,158.1L782.3,182.6L782.8,211.5L783.3,240.5L783.8,265L784.3,281.4L784.8,287.1L785.4,281.4L785.9,265.3L786.4,241.1L786.9,212.6L787.4,184.1L787.9,160L788.4,143.8L788.9,138.2L789.5,144L790,160.4L790.5,185.1L791,214.1L791.5,243.2L792,267.8L792.5,284.3L793,290.1L793.6,284.6L794.1,269.1L794.6,245.9L795.1,218.5L795.6,191.1L796.1,167.9L796.6,152.4L797.1,146.9L797.7,152.6L798.2,168.7L798.7,192.8L799.2,221.2L799.7,249.6L800.2,273.7L800.7,289.8L801.2,295.5L801.8,289.9L802.3,274.2L802.8,250.6L803.3,222.8L803.8,195L804.3,171.4L804.8,155.6L805.3,150.1L805.9,155.5L806.4,170.9L806.9,193.9L807.4,221.1L807.9,248.3L808.4,271.3L808.9,286.7L809.4,292.1L809.9,286.6L810.5,271.1L811,247.9L811.5,220.5L812,193.1L812.5,169.9L813,154.4L813.5,148.9L814,154.3L814.6,169.6L815.1,192.5L815.6,219.5L816.1,246.5L816.6,269.4L817.1,284.7L817.6,290.1L818.1,284.7L818.7,269.4L819.2,246.5L819.7,219.5L820.2,192.5L820.7,169.6L821.2,154.3L821.7,148.9L822.2,154.6L822.8,170.8L823.3,195.1L823.8,223.8L824.3,252.4L824.8,276.7L825.3,292.9L825.8,298.6L826.3,292.9L826.9,276.4L827.4,251.8L827.9,222.8L828.4,193.7L828.9,169.1L829.4,152.7L829.9,146.9L830.4,153L831,170.5L831.5,196.6L832,227.5L832.5,258.3L833,284.4L833.5,301.9L834,308L834.5,301.7L835.1,283.7L835.6,256.7L836.1,225L836.6,193.2L837.1,166.3L837.6,148.3L838.1,141.9L838.6,147.7L839.2,163.9L839.7,188.3L840.2,217L840.7,245.7L841.2,270.1L841.7,286.4L842.2,292.1L842.7,286.1L843.2,269.2L843.8,243.9L844.3,214L844.8,184.2L845.3,158.8L845.8,141.9L846.3,136L846.8,141.8L847.3,158.5L847.9,183.5L848.4,213L848.9,242.5L849.4,267.5L849.9,284.2L850.4,290.1L850.9,284.2L851.4,267.5L852,242.5L852.5,213L853,183.5L853.5,158.5L854,141.8L854.5,136L855,141.8L855.5,158.5L856.1,183.5L856.6,213L857.1,242.5L857.6,267.5L858.1,284.2L858.6,290.1L859.1,284.7L859.6,269.4L860.2,246.5L860.7,219.5L861.2,192.5L861.7,169.6L862.2,154.3L862.7,148.9L863.2,154.3L863.7,169.6L864.3,192.5L864.8,219.5L865.3,246.5L865.8,269.4L866.3,284.7L866.8,290.1L867.3,284.4L867.8,268.1L868.4,243.8L868.9,215L869.4,186.3L869.9,161.9L870.4,145.7L870.9,140L871.4,145.6L871.9,161.7L872.4,185.7L873,214L873.5,242.4L874,266.4L874.5,282.5L875,288.1L875.5,282.3L876,266L876.5,241.5L877.1,212.5L877.6,183.6L878.1,159.1L878.6,142.7L879.1,137L879.6,142.8L880.1,159.3L880.6,183.9L881.2,213L881.7,242.1L882.2,266.8L882.7,283.3L883.2,289.1L883.7,283.8L884.2,268.6L884.7,245.8L885.3,219L885.8,192.2L886.3,169.4L886.8,154.2L887.3,148.9L887.8,154.2L888.3,169.4L888.8,192.2L889.4,219L889.9,245.8L890.4,268.6L890.9,283.8L891.4,289.1L891.9,283.5L892.4,267.7L892.9,244L893.5,216L894,188.1L894.5,164.3L895,148.5L895.5,142.9L896,148.8L896.5,165.4L897,190.2L897.6,219.5L898.1,248.8L898.6,273.6L899.1,290.2L899.6,296.1L900.1,290.3L900.6,273.9L901.1,249.4L901.6,220.5L902.2,191.6L902.7,167.1L903.2,150.7L903.7,144.9L904.2,150.5L904.7,166.5L905.2,190.3L905.7,218.5L906.3,246.7L906.8,270.5L907.3,286.5L907.8,292.1L908.3,286.5L908.8,270.5L909.3,246.5L909.8,218.3L910.4,190.1L910.9,166.1L911.4,150.1L911.9,144.5L912.4,150.3L912.9,166.7L913.4,191.3L913.9,220.3L914.5,249.3L915,273.9L915.5,290.3L916,296.1L916.5,290.6L917,275.1L917.5,251.9L918,224.5L918.6,197.1L919.1,173.9L919.6,158.3L920.1,152.9L920.6,158.2L921.1,173.3L921.6,195.8L922.1,222.5L922.7,249.1L923.2,271.7L923.7,286.8L924.2,292.1L924.7,286.9L925.2,272L925.7,249.9L926.2,223.7L926.8,197.5L927.3,175.3L927.8,160.5L928.3,155.3L928.8,160.7L929.3,176.2L929.8,199.3L930.3,226.7L930.8,254L931.4,277.1L931.9,292.6L932.4,298L932.9,298.2L933.5,298.8L934,299.6L934.6,300.6L935.1,301.6L935.7,302.5L936.2,303L936.7,303.2L937.2,298.9L937.7,286.7L938.1,268.5L938.6,246.9L939,225.4L939.5,207.1L940,194.9L940.4,190.7L940.9,192.1L941.3,196.2L941.8,202.3L942.3,209.6" fill="none" stroke="#1c78c0" stroke-width="3.7" stroke-dasharray="7 7" stroke-linejoin="round"/>
<path d="M942.3,209.6L942.7,216.8L943.2,222.9L943.6,227L944.1,228.4L945.1,228.1L946.2,227L947.2,225.5L948.3,223.7L949.3,221.8L950.4,220.3L951.4,219.2L952.5,218.9L953,219L953.5,219.3L954,219.9L954.5,220.5L955,221.1L955.5,221.7L956.1,222L956.6,222.2L957.1,222L957.6,221.5L958.1,220.8L958.6,219.9L959.1,219.1L959.6,218.3L960.2,217.8L960.7,217.7L961.2,217.8L961.7,218.2L962.2,218.9L962.7,219.6L963.2,220.4L963.7,221L964.3,221.4L964.8,221.6L965.3,221.4L965.8,221L966.3,220.3L966.8,219.5L967.3,218.8L967.8,218.1L968.4,217.7L968.9,217.5L969.4,217.7L969.9,218.1L970.4,218.7L970.9,219.5L971.4,220.2L971.9,220.8L972.4,221.3L973,221.4L973.5,221.2L974,220.8L974.5,220.1L975,219.4L975.5,218.6L976,217.9L976.5,217.5L977.1,217.3L977.6,217.5L978.1,217.9L978.6,218.5L979.1,219.3L979.6,220L980.1,220.7L980.6,221.1L981.2,221.2L981.7,221.1L982.2,220.6L982.7,220L983.2,219.2L983.7,218.4L984.2,217.8L984.7,217.3L985.3,217.2L985.8,217.3L986.3,217.8L986.8,218.4L987.3,219.2L987.8,219.9L988.3,220.6L988.8,221L989.4,221.1L989.9,221L990.4,220.6L990.9,220.1L991.4,219.4L991.9,218.8L992.4,218.3L992.9,217.9L993.5,217.8L994,217.9L994.5,218.4L995,219.2L995.5,220L996,220.9L996.5,221.7L997,222.1L997.6,222.3L998.1,222.2L998.6,221.8L999.1,221.3L999.6,220.6L1000.1,220L1000.6,219.4L1001.1,219.1L1001.6,218.9L1002.2,219.1L1002.7,219.6L1003.2,220.3L1003.7,221.2L1004.2,222.1L1004.7,222.8L1005.2,223.3L1005.7,223.5L1006.3,223.4L1006.8,223L1007.3,222.5L1007.8,221.8L1008.3,221.2L1008.8,220.6L1009.3,220.2L1009.8,220.1L1010.4,220.3L1010.9,220.8L1011.4,221.5L1011.9,222.4L1012.4,223.3L1012.9,224L1013.4,224.5L1013.9,224.7L1014.5,224.6L1015,224.2L1015.5,223.7L1016,223.1L1016.5,222.5L1017,222L1017.5,221.7L1018,221.6L1018.6,221.8L1019.1,222.4L1019.6,223.2L1020.1,224.2L1020.6,225.3L1021.1,226.1L1021.6,226.7L1022.1,226.9L1022.7,226.8L1023.2,226.5L1023.7,226.1L1024.2,225.6L1024.7,225.1L1025.2,224.7L1025.7,224.4L1026.2,224.3L1026.8,224.5L1027.3,225L1027.8,225.9L1028.3,226.8L1028.8,227.8L1029.3,228.7L1029.8,229.2L1030.3,229.4L1030.9,229.3L1031.4,228.8L1031.9,228.2L1032.4,227.4L1032.9,226.6L1033.4,226L1033.9,225.6L1034.4,225.4L1034.9,225.5L1035.5,225.9L1036,226.5L1036.5,227.1L1037,227.8L1037.5,228.3L1038,228.7L1038.5,228.8L1039,228.7L1039.6,228.3L1040.1,227.7L1040.6,227.1L1041.1,226.4L1041.6,225.8L1042.1,225.4L1042.6,225.3L1043.1,225.4L1043.7,225.9L1044.2,226.6L1044.7,227.4L1045.2,228.2L1045.7,228.8L1046.2,229.3L1046.7,229.4L1047.2,229.4L1047.8,229.3L1048.3,229.1L1048.8,228.9L1049.3,228.6L1049.8,228.5L1050.3,228.3L1050.8,228.3L1051.3,228.4L1051.9,228.9L1052.4,229.6L1052.9,230.4L1053.4,231.2L1053.9,231.9L1054.4,232.4L1054.9,232.5L1055.4,232.5L1056,232.4L1056.5,232.4L1057,232.3L1057.5,232.1L1058,232.1L1058.5,232L1059,232L1060.5,232L1061.9,232L1063.4,232.1L1064.8,232.2L1066.3,232.3L1067.8,232.4L1069.2,232.4L1070.7,232.4L1072,232.5L1073.4,232.9L1074.8,233.3L1076.2,233.9L1077.6,234.5L1078.9,235L1080.3,235.3L1081.7,235.4L1082.9,235.2L1084.2,234.6L1085.4,233.6L1086.7,232.5L1087.9,231.4L1089.2,230.5L1090.4,229.9L1091.7,229.6L1093.8,229.3L1095.9,228.3L1098,226.8L1100.2,225L1102.3,223.2L1104.4,221.7L1106.5,220.6L1108.6,220.3L1110.3,220.1L1111.9,219.4L1113.5,218.5L1115.2,217.4L1116.8,216.3L1118.4,215.4L1120.1,214.7L1121.7,214.5" fill="none" stroke="#1c78c0" stroke-width="4.4" stroke-dasharray="5.3 5.1" stroke-linejoin="round"/>
<path d="M713.4,409.4v6.2M815.5,409.4v6.2M917.5,409.4v6.2M1019.6,409.4v6.2M1121.7,409.4v6.2M713.4,11.7h-6.2M713.4,111.1h-6.2M713.4,210.5h-6.2M713.4,310h-6.2M713.4,409.4h-6.2" stroke="#000" stroke-width="1.2" fill="none"/>
<text x="713.6" y="441.6" font-family='"DejaVu Sans", "Liberation Sans", sans-serif' font-size="25.6" text-anchor="middle" fill="#000">20</text>
<text x="815.68" y="441.6" font-family='"DejaVu Sans", "Liberation Sans", sans-serif' font-size="25.6" text-anchor="middle" fill="#000">25</text>
<text x="917.75" y="441.6" font-family='"DejaVu Sans", "Liberation Sans", sans-serif' font-size="25.6" text-anchor="middle" fill="#000">30</text>
<text x="1019.83" y="441.6" font-family='"DejaVu Sans", "Liberation Sans", sans-serif' font-size="25.6" text-anchor="middle" fill="#000">35</text>
<text x="1121.9" y="441.6" font-family='"DejaVu Sans", "Liberation Sans", sans-serif' font-size="25.6" text-anchor="middle" fill="#000">40</text>
<text x="701" y="21.3" font-family='"DejaVu Sans", "Liberation Sans", sans-serif' font-size="25.6" text-anchor="end" fill="#000">10</text>
<text x="701" y="120.72" font-family='"DejaVu Sans", "Liberation Sans", sans-serif' font-size="25.6" text-anchor="end" fill="#000">5</text>
<text x="701" y="220.15" font-family='"DejaVu Sans", "Liberation Sans", sans-serif' font-size="25.6" text-anchor="end" fill="#000">0</text>
<text x="701" y="319.57" font-family='"DejaVu Sans", "Liberation Sans", sans-serif' font-size="25.6" text-anchor="end" fill="#000">−5</text>
<text x="701" y="419" font-family='"DejaVu Sans", "Liberation Sans", sans-serif' font-size="25.6" text-anchor="end" fill="#000">−10</text>
<rect x="713.4" y="11.7" width="408.3" height="397.7" fill="none" stroke="#000" stroke-width="2.9"/>
<text x="918.65" y="477.5" font-family='"DejaVu Sans", "Liberation Sans", sans-serif' font-size="30.3" text-anchor="middle" fill="#000" word-spacing="2.3">Time [µs]</text>
<text transform="translate(634,210.9) rotate(-90)" font-family='"DejaVu Sans", "Liberation Sans", sans-serif' font-size="29.35" text-anchor="middle" fill="#000">Amplitude [mV]</text>
<text x="608.6" y="461.2" font-family='"Liberation Sans", "DejaVu Sans", sans-serif' font-size="52" text-anchor="start" fill="#000" font-weight="bold">b)</text>
</g>
<g id="pc">
<path d="M105.5,725.5L105.8,725.4L106.1,725L106.4,724.6L106.7,724L107,723.4L107.3,722.9L107.6,722.6L107.9,722.5L108.5,722.8L109,723.8L109.5,725.3L110,727L110.5,728.7L111,730.1L111.5,731.1L112,731.5L112.4,731.3L112.7,731L113,730.5L113.4,730L113.7,729.4L114,728.9L114.4,728.6L114.7,728.5L115.2,728.8L115.8,729.9L116.4,731.5L116.9,733.4L117.5,735.3L118.1,737L118.6,738L119.2,738.4L119.7,733.1L120.2,718L120.7,695.4L121.2,668.8L121.7,642.2L122.2,619.6L122.7,604.5L123.2,599.2L123.7,606.4L124.2,627L124.7,657.8L125.2,694.2L125.7,730.5L126.2,761.3L126.7,781.9L127.2,789.1L127.7,782.8L128.3,764.9L128.8,738L129.3,706.3L129.8,674.6L130.4,647.7L130.9,629.8L131.4,623.5L131.9,630.3L132.5,649.8L133,678.9L133.5,713.2L134,747.5L134.5,776.6L135.1,796.1L135.6,802.9L136.1,796.4L136.6,778L137.1,750.4L137.6,717.8L138.1,685.2L138.6,657.6L139.1,639.2L139.6,632.7L140.1,639.4L140.6,658.5L141.1,687L141.7,720.7L142.2,754.3L142.7,782.9L143.2,802L143.8,808.7L144.3,802.1L144.8,783.4L145.3,755.5L145.8,722.5L146.3,689.5L146.8,661.6L147.3,642.9L147.8,636.4L148.3,643.2L148.8,662.5L149.3,691.5L149.8,725.7L150.3,759.8L150.8,788.8L151.3,808.1L151.8,814.9L152.3,808.4L152.9,789.9L153.4,762.2L153.9,729.6L154.4,696.9L155,669.2L155.5,650.7L156,644.2L156.5,651.3L157,671.5L157.5,701.8L158,737.4L158.5,773.1L159,803.3L159.5,823.5L160,830.6L160.5,824.1L161,805.4L161.6,777.5L162.1,744.5L162.6,711.5L163.1,683.6L163.6,664.9L164.2,658.4L164.7,664.7L165.2,682.8L165.7,709.9L166.2,741.9L166.7,773.8L167.2,800.9L167.7,819.1L168.2,825.4L168.8,819.2L169.3,801.3L169.8,774.7L170.3,743.2L170.9,711.7L171.4,685.1L171.9,667.2L172.4,661L172.9,667.4L173.4,685.9L173.9,713.4L174.4,746L174.9,778.5L175.4,806.1L175.9,824.5L176.4,831L176.9,824.4L177.5,805.9L178,778.2L178.5,745.4L179,712.7L179.6,685L180.1,666.4L180.6,659.9L181.1,666.8L181.6,686.4L182.1,715.7L182.6,750.3L183.1,784.8L183.6,814.1L184.1,833.7L184.6,840.6L185.1,834.6L185.6,817.5L186.1,791.9L186.7,761.8L187.2,731.6L187.7,706L188.2,689L188.8,683L189.2,690L189.7,710.1L190.1,740.2L190.6,775.6L191.1,811.1L191.5,841.2L192,861.3L192.4,868.3L193,861.1L193.5,840.4L194.1,809.5L194.6,773L195.2,736.6L195.7,705.6L196.3,685L196.8,677.7L197.3,684.5L197.7,703.9L198.2,733L198.7,767.3L199.1,801.5L199.6,830.6L200,850L200.5,856.8L201,849.8L201.5,829.6L202.1,799.5L202.6,764L203.1,728.5L203.6,698.4L204.1,678.3L204.7,671.2L205.2,678.3L205.7,698.3L206.2,728.2L206.8,763.5L207.3,798.8L207.8,828.7L208.3,848.7L208.9,855.8L209.4,848.9L209.9,829.3L210.4,800L211,765.4L211.5,730.9L212,701.6L212.5,682L213,675.1L213.6,681.6L214.1,700.1L214.6,727.8L215.1,760.5L215.7,793.1L216.2,820.8L216.7,839.3L217.2,845.8L217.8,839L218.3,819.8L218.8,790.9L219.3,756.8L219.8,722.7L220.4,693.9L220.9,674.6L221.4,667.8L221.9,674.1L222.4,692.2L222.9,719.3L223.4,751.3L223.9,783.3L224.4,810.4L224.9,828.5L225.4,834.8L225.9,827.8L226.4,807.9L227,778L227.5,742.8L228,707.5L228.5,677.7L229.1,657.7L229.6,650.7L230.1,657.3L230.6,676L231.1,704.1L231.6,737.1L232.1,770.2L232.6,798.2L233.2,816.9L233.7,823.5L234.2,816.9L234.7,798L235.2,769.8L235.7,736.5L236.2,703.2L236.7,674.9L237.2,656.1L237.7,649.5L238.2,655.8L238.7,673.9L239.2,701L239.7,733L240.2,764.9L240.7,792L241.1,810.2L241.6,816.5L242.2,810.4L242.7,793.1L243.2,767.2L243.8,736.6L244.3,706.1L244.8,680.2L245.4,662.9L245.9,656.8L246.4,663.3L246.9,681.8L247.3,709.5L247.8,742.1L248.3,774.8L248.7,802.5L249.2,821L249.7,827.5L250.2,822L250.7,806.5L251.2,783.2L251.8,755.8L252.3,728.3L252.8,705L253.3,689.5L253.9,684L254.4,687.8L254.9,698.6L255.4,714.7L256,733.8L256.5,752.8L257,769L257.5,779.7L258.1,783.5L258.5,778.6L258.9,764.5L259.3,743.5L259.7,718.7L260.1,693.9L260.6,672.8L261,658.8L261.4,653.9L262,658.8L262.6,673L263.2,694.2L263.8,719.2L264.3,744.2L264.9,765.4L265.5,779.6L266.1,784.6L266.5,779.8L267,766.1L267.4,745.7L267.8,721.6L268.3,697.5L268.7,677.1L269.1,663.5L269.6,658.7L270.2,663.6L270.7,677.6L271.3,698.5L271.9,723.2L272.5,747.9L273.1,768.8L273.7,782.8L274.3,787.7L274.7,782.9L275.1,769L275.6,748.3L276,723.9L276.4,699.5L276.9,678.8L277.3,665L277.7,660.1L278.3,665L278.9,679L279.5,699.8L280,724.5L280.6,749.1L281.2,769.9L281.8,783.9L282.3,788.8L282.8,784L283.2,770.4L283.7,750.1L284.2,726.2L284.6,702.2L285.1,681.9L285.5,668.4L286,663.6L286.6,668.3L287.1,681.6L287.7,701.6L288.2,725.1L288.8,748.7L289.4,768.6L289.9,782L290.5,786.7L291,781.4L291.4,766.4L291.9,744L292.3,717.5L292.8,691.1L293.2,668.7L293.7,653.7L294.2,648.4L294.7,653.8L295.3,669.3L295.8,692.4L296.4,719.6L297,746.9L297.5,770L298.1,785.4L298.7,790.9L299.1,786.4L299.6,773.5L300,754.3L300.5,731.7L301,709L301.4,689.8L301.9,677L302.3,672.5L302.9,677.3L303.4,690.9L304,711.3L304.5,735.3L305.1,759.4L305.6,779.8L306.2,793.4L306.7,798.2L307.2,793.6L307.6,780.4L308.1,760.7L308.6,737.4L309,714.2L309.5,694.5L309.9,681.3L310.4,676.7L310.9,681.4L311.4,694.8L311.9,714.8L312.4,738.4L312.9,762.1L313.5,782.1L314,795.5L314.5,800.2L315,795.7L315.5,783L316,764L316.4,741.6L316.9,719.1L317.4,700.1L317.9,687.4L318.4,682.9L318.9,687.5L319.3,700.6L319.8,720.2L320.3,743.2L320.7,766.3L321.2,785.9L321.6,799L322.1,803.5L322.5,802.3L322.9,798.8L323.2,793.6L323.6,787.4L324,781.2L324.4,776L324.8,772.5L325.1,771.2L325.5,773.5L325.8,780.1L326.1,789.9L326.4,801.5L326.7,813.1L327.1,823L327.4,829.6L327.7,831.9L328.3,828.4L328.8,818.5L329.4,803.6L330,786.1L330.5,768.6L331.1,753.7L331.6,743.8L332.2,740.3L332.6,742.6L333.1,749.1L333.5,758.8L334,770.2L334.4,781.7L334.9,791.4L335.3,797.9L335.8,800.2L336.3,797.5L336.9,790.1L337.5,778.9L338,765.7L338.6,752.5L339.1,741.3L339.7,733.8L340.3,731.2L340.7,733.6L341.2,740.7L341.6,751.3L342.1,763.7L342.5,776.2L343,786.7L343.4,793.8L343.9,796.2L344.4,793.7L345,786.3L345.6,775.3L346.2,762.3L346.7,749.3L347.3,738.3L347.9,731L348.5,728.4L348.9,730.8L349.4,737.7L349.8,747.9L350.3,760.1L350.7,772.2L351.1,782.5L351.6,789.4L352,791.8L352.6,789.3L353.2,782.3L353.7,771.8L354.3,759.5L354.8,747.2L355.4,736.7L356,729.7L356.5,727.2L357,730L357.4,737.8L357.9,749.4L358.3,763.1L358.8,776.9L359.2,788.5L359.7,796.3L360.1,799.1L360.7,796.3L361.2,788.4L361.8,776.5L362.4,762.6L362.9,748.6L363.5,736.8L364,728.9L364.6,726.1L365.2,729.2L365.8,738.1L366.3,751.4L366.9,767.1L367.5,782.7L368.1,796L368.6,804.9L369.2,808L369.7,804L370.2,792.5L370.8,775.3L371.3,755L371.8,734.7L372.3,717.5L372.8,706L373.3,702L373.8,705.3L374.3,714.6L374.8,728.5L375.3,744.9L375.8,761.3L376.3,775.3L376.8,784.6L377.3,787.8L377.8,784.3L378.3,774.4L378.8,759.4L379.3,741.8L379.9,724.2L380.4,709.3L380.9,699.3L381.4,695.8L381.9,699.4L382.4,709.5L382.9,724.6L383.4,742.4L383.9,760.2L384.4,775.3L385,785.4L385.5,789L385.9,785.6L386.4,775.9L386.9,761.4L387.4,744.4L387.9,727.3L388.4,712.8L388.9,703.2L389.4,699.8L389.8,702.2L390.3,709.3L390.7,719.9L391.2,732.3L391.6,744.8L392.1,755.3L392.5,762.4L393,764.8L393.5,761.8L394,753.3L394.5,740.4L395,725.3L395.6,710.2L396.1,697.3L396.6,688.8L397.1,685.7L397.6,689.2L398.1,699L398.6,713.6L399.1,730.9L399.6,748.2L400.1,762.8L400.6,772.6L401,776.1L401.5,773.2L402.1,765.2L402.6,753.2L403.1,739L403.6,724.9L404.1,712.9L404.6,704.8L405.1,702L405.6,705L406.1,713.6L406.6,726.4L407.2,741.6L407.7,756.7L408.2,769.5L408.7,778.1L409.2,781.1L409.8,777.5L410.4,767.1L411,751.7L411.6,733.4L412.2,715.2L412.8,699.7L413.4,689.4L413.9,685.7L414.4,689.7L414.9,701L415.3,718L415.8,737.9L416.3,757.9L416.7,774.8L417.2,786.1L417.6,790.1L418.2,786.6L418.8,776.9L419.3,762.2L419.9,744.9L420.4,727.6L421,713L421.6,703.2L422.1,699.8L422.6,703.5L423.1,714.1L423.5,730.1L424,748.8L424.4,767.6L424.9,783.6L425.4,794.2L425.8,797.9L426.4,794.8L427,785.9L427.6,772.5L428.2,756.7L428.8,740.9L429.4,727.5L429.9,718.6L430.5,715.5L431,718.9L431.5,728.8L431.9,743.5L432.4,760.9L432.8,778.3L433.3,793L433.8,802.9L434.2,806.3L434.8,802.9L435.3,793.3L435.9,778.8L436.4,761.7L437,744.7L437.5,730.2L438.1,720.5L438.6,717.2L439.1,720.2L439.5,729L440,742.1L440.5,757.5L440.9,773L441.4,786.1L441.8,794.9L442.3,797.9L442.9,794.6L443.5,785.1L444.1,770.8L444.7,754L445.3,737.2L445.8,723L446.4,713.4L447,710.1L447.5,713.2L447.9,722.2L448.3,735.6L448.8,751.5L449.2,767.3L449.6,780.8L450.1,789.7L450.5,792.9L451.1,789.3L451.7,779.2L452.3,764L452.8,746L453.4,728.1L454,712.9L454.6,702.8L455.2,699.2L456.2,702.3L457.2,711.1L458.1,724.3L459.1,739.9L460.1,755.4L461.1,768.6L462.1,777.5L463.1,780.5L463.8,780.1L464.6,778.7L465.4,776.6L466.1,774.2L466.9,771.7L467.7,769.7L468.4,768.3L469.2,767.8L469.6,768.3L470.1,769.7L470.5,771.7L470.9,774.2L471.3,776.6L471.7,778.7L472.2,780.1L472.6,780.5L473.1,779.9L473.6,778.2L474.1,775.6L474.5,772.5L475,769.4L475.5,766.8L476,765.1L476.5,764.4L476.9,765.1L477.3,767L477.6,769.8L478,773.1L478.4,776.4L478.8,779.1L479.2,781L479.5,781.7L480.1,781.1L480.6,779.5L481.1,777L481.7,774.2L482.2,771.3L482.7,768.9L483.3,767.3L483.8,766.7L484.1,767.3L484.5,768.9L484.8,771.3L485.2,774.2L485.5,777L485.9,779.5L486.3,781.1L486.6,781.7L487,781.5L487.4,781L487.9,780.3L488.3,779.5L488.7,778.7L489.1,778L489.5,777.5L490,777.3L490.7,777.7L491.4,778.5L492.1,779.9L492.8,781.5L493.5,783L494.2,784.4L494.9,785.3L495.6,785.6L496.5,785.2L497.4,784.1L498.3,782.4L499.2,780.3L500.1,778.3L501,776.6L501.9,775.5L502.9,775.1L503.4,775.1L504,775.2L504.5,775.4L505.1,775.6L505.7,775.8L506.2,775.9L506.8,776L507.3,776.1L508,775.9L508.6,775.3L509.2,774.4L509.9,773.3L510.5,772.3L511.1,771.4L511.8,770.8L512.4,770.6L512.6,770.6L512.7,770.6L512.9,770.5L513,770.4L513.2,770.3L513.4,770.3L513.5,770.2L513.7,770.2" fill="none" stroke="#808080" stroke-width="5.2" stroke-linejoin="round" stroke-linecap="butt"/>
<path d="M105.5,735.4L106.3,735.6L107,736.2L107.8,737L108.6,737.9L109.3,738.9L110.1,739.7L110.9,740.2L111.6,740.4L112.4,740.2L113.3,739.7L114.1,738.9L114.9,737.9L115.7,737L116.5,736.2L117.3,735.6L118.2,735.4L118.9,731.7L119.6,721.2L120.3,705.5L121,686.9L121.7,668.3L122.4,652.6L123.2,642.1L123.9,638.4L124.4,647.3L124.9,672.8L125.4,711L125.9,756L126.4,801L126.9,839.2L127.5,864.7L128,873.6L128.5,864L129,836.6L129.5,795.6L130,747.3L130.5,698.9L131,657.9L131.6,630.5L132.1,620.9L132.6,629L133.1,651.9L133.6,686.3L134.1,726.9L134.6,767.4L135.1,801.8L135.6,824.8L136.2,832.9L136.7,825.4L137.2,804.1L137.7,772.2L138.2,734.5L138.7,696.9L139.2,665L139.7,643.7L140.3,636.2L140.8,643.9L141.3,665.9L141.8,698.8L142.3,737.6L142.8,776.4L143.3,809.3L143.8,831.3L144.4,839L144.9,831.5L145.4,810.1L145.9,778.1L146.4,740.4L146.9,702.7L147.4,670.7L147.9,649.3L148.5,641.8L149,649L149.5,669.7L150,700.6L150.5,737.1L151,773.6L151.5,804.5L152,825.2L152.6,832.5L153.1,825.1L153.6,804.1L154.1,772.7L154.6,735.7L155.1,698.7L155.6,667.3L156.1,646.3L156.6,639L157.2,646.5L157.7,667.8L158.2,699.7L158.7,737.3L159.2,774.9L159.7,806.8L160.2,828.2L160.7,835.6L161.3,828.1L161.8,806.6L162.3,774.5L162.8,736.5L163.3,698.6L163.8,666.4L164.3,644.9L164.8,637.4L165.4,644.7L165.9,665.5L166.4,696.6L166.9,733.2L167.4,769.9L167.9,801L168.4,821.8L168.9,829.1L169.5,822.1L170,802.1L170.5,772.3L171,737L171.5,701.8L172,671.9L172.5,652L173,645L173.5,651.9L174.1,671.8L174.6,701.5L175.1,736.5L175.6,771.6L176.1,801.3L176.6,821.1L177.1,828.1L177.6,821.2L178.2,801.8L178.7,772.6L179.2,738.2L179.7,703.8L180.2,674.7L180.7,655.2L181.2,648.3L181.7,655.5L182.3,675.9L182.8,706.5L183.3,742.6L183.8,778.7L184.3,809.2L184.8,829.7L185.3,836.8L185.8,829.7L186.4,809.6L186.9,779.3L187.4,743.7L187.9,708L188.4,677.8L188.9,657.6L189.4,650.5L189.9,657.5L190.5,677.3L191,707L191.5,742L192,777L192.5,806.7L193,826.5L193.5,833.5L194,826.6L194.5,807.2L195.1,778L195.6,743.7L196.1,709.3L196.6,680.2L197.1,660.7L197.6,653.9L198.1,660.3L198.6,678.4L199.2,705.6L199.7,737.7L200.2,769.8L200.7,797L201.2,815.1L201.7,821.5L202.2,815.2L202.7,797.4L203.3,770.6L203.8,739L204.3,707.4L204.8,680.7L205.3,662.8L205.8,656.5L206.3,663.1L206.8,682.1L207.4,710.5L207.9,744L208.4,777.5L208.9,805.8L209.4,824.8L209.9,831.5L210.4,824.8L210.9,805.7L211.4,777.2L212,743.5L212.5,709.8L213,681.3L213.5,662.2L214,655.5L214.5,662.5L215,682.3L215.5,712L216.1,747L216.6,782L217.1,811.6L217.6,831.5L218.1,838.4L218.6,831.5L219.1,811.8L219.6,782.4L220.2,747.7L220.7,712.9L221.2,683.5L221.7,663.8L222.2,656.9L222.7,663.4L223.2,682.1L223.7,710L224.3,742.9L224.8,775.8L225.3,803.7L225.8,822.3L226.3,828.9L226.8,822.3L227.3,803.4L227.8,775.2L228.4,741.9L228.9,708.6L229.4,680.4L229.9,661.5L230.4,654.9L230.9,661.8L231.4,681.5L231.9,710.9L232.4,745.6L233,780.3L233.5,809.7L234,829.3L234.5,836.2L235,829.3L235.5,809.6L236,780.1L236.5,745.3L237.1,710.5L237.6,680.9L238.1,661.2L238.6,654.3L239.1,661.3L239.6,681.4L240.1,711.5L240.6,747L241.2,782.4L241.7,812.5L242.2,832.6L242.7,839.6L243.2,832.4L243.7,812L244.2,781.4L244.7,745.4L245.3,709.3L245.8,678.7L246.3,658.3L246.8,651.1L247.3,657.9L247.8,677.4L248.3,706.4L248.8,740.7L249.3,775L249.9,804L250.4,823.5L250.9,830.3L251.4,823.6L251.9,804.7L252.4,776.5L252.9,743.1L253.4,709.7L254,681.4L254.5,662.5L255,655.9L255.5,662.3L256,680.5L256.5,707.7L257,739.8L257.5,771.9L258.1,799.1L258.6,817.3L259.1,823.7L259.6,817.6L260.1,800.3L260.6,774.4L261.1,743.8L261.6,713.2L262.2,687.3L262.7,669.9L263.2,663.8L263.7,670.1L264.2,688L264.7,714.8L265.2,746.5L265.7,778.1L266.3,804.9L266.8,822.8L267.3,829.1L267.8,822.6L268.3,804.3L268.8,776.9L269.3,744.5L269.8,712.1L270.3,684.6L270.9,666.3L271.4,659.9L271.9,666.2L272.4,684.3L272.9,711.3L273.4,743.2L273.9,775.1L274.4,802.1L275,820.2L275.5,826.5L276,820.2L276.5,802.2L277,775.4L277.5,743.7L278,712L278.5,685.1L279.1,667.2L279.6,660.9L280.1,666.8L280.6,683.7L281.1,708.9L281.6,738.7L282.1,768.5L282.6,793.8L283.2,810.6L283.7,816.6L284.2,810.6L284.7,793.5L285.2,768L285.7,737.9L286.2,707.8L286.7,682.3L287.2,665.3L287.8,659.3L288.3,665.7L288.8,684L289.3,711.5L289.8,743.9L290.3,776.3L290.8,803.7L291.3,822L291.9,828.5L292.4,822L292.9,803.6L293.4,776L293.9,743.4L294.4,710.8L294.9,683.2L295.4,664.8L296,658.3L296.5,665L297,684L297.5,712.5L298,746.1L298.5,779.7L299,808.1L299.5,827.2L300.1,833.9L300.6,827.5L301.1,809.3L301.6,782L302.1,749.8L302.6,717.7L303.1,690.4L303.6,672.2L304.2,665.8L304.7,672L305.2,689.4L305.7,715.5L306.2,746.4L306.7,777.2L307.2,803.3L307.7,820.8L308.2,826.9L308.8,820.6L309.3,802.8L309.8,776.1L310.3,744.7L310.8,713.2L311.3,686.5L311.8,668.7L312.3,662.4L312.9,668.9L313.4,687.4L313.9,715L314.4,747.7L314.9,780.3L315.4,807.9L315.9,826.4L316.4,832.9L317,826.1L317.5,806.9L318,778.2L318.5,744.4L319,710.5L319.5,681.8L320,662.6L320.5,655.9L321.1,662.6L321.6,681.7L322.1,710.2L322.6,743.9L323.1,777.6L323.6,806.1L324.1,825.2L324.6,831.9L325.1,827.1L325.6,813.7L326.1,793.5L326.6,769.7L327.1,745.9L327.6,725.8L328.1,712.3L328.6,707.6L328.8,708.7L329,712L329.3,716.8L329.5,722.5L329.7,728.2L330,733L330.2,736.3L330.4,737.4L330.7,735.6L331,730.4L331.3,722.7L331.6,713.6L331.9,704.4L332.3,696.7L332.6,691.5L332.9,689.7L333.4,693.6L333.9,704.5L334.5,721L335,740.4L335.5,759.8L336.1,776.3L336.6,787.2L337.2,791.1L338.1,788.9L339.1,782.7L340.1,773.5L341.1,762.5" fill="none" stroke="#ff7f0e" stroke-width="3.7" stroke-dasharray="7 7" stroke-linejoin="round"/>
<path d="M341.1,762.5L342.1,751.6L343.1,742.3L344.1,736.1L345.1,734L345.6,736L346.1,741.6L346.7,750L347.2,759.9L347.7,769.9L348.2,778.3L348.7,783.9L349.2,785.9L349.7,784.1L350.2,778.8L350.8,770.9L351.3,761.7L351.8,752.4L352.3,744.5L352.8,739.3L353.3,737.4L353.8,739.1L354.3,743.8L354.9,750.9L355.4,759.2L355.9,767.6L356.4,774.7L356.9,779.4L357.4,781.1L357.9,779.4L358.4,774.7L359,767.6L359.5,759.2L360,750.9L360.5,743.8L361,739.1L361.5,737.4L362,738.9L362.5,743.1L363,749.4L363.6,756.8L364.1,764.3L364.6,770.6L365.1,774.8L365.6,776.3L366.1,774.8L366.6,770.6L367.1,764.3L367.7,756.8L368.2,749.4L368.7,743.1L369.2,738.9L369.7,737.4L370.2,738.7L370.7,742.5L371.2,748.2L371.8,754.9L372.3,761.6L372.8,767.2L373.3,771L373.8,772.3L374.3,771L374.8,767.1L375.3,761.3L375.9,754.5L376.4,747.7L376.9,741.9L377.4,738.1L377.9,736.7L378.4,738L378.9,741.6L379.4,747L380,753.3L380.5,759.7L381,765.1L381.5,768.7L382,769.9L382.5,768.6L383,765L383.5,759.4L384,752.9L384.6,746.4L385.1,740.9L385.6,737.2L386.1,735.9L386.6,737.1L387.1,740.6L387.6,745.7L388.1,751.7L388.7,757.8L389.2,762.9L389.7,766.3L390.2,767.5L390.7,766.4L391.2,763.1L391.7,758.2L392.2,752.4L392.8,746.6L393.3,741.7L393.8,738.4L394.3,737.2L394.8,738.4L395.3,741.6L395.8,746.5L396.3,752.2L396.9,758L397.4,762.8L397.9,766.1L398.4,767.2L398.9,766.3L399.4,763.5L399.9,759.5L400.4,754.6L400.9,749.8L401.5,745.7L402,743L402.5,742L403,743L403.5,745.7L404,749.8L404.5,754.6L405,759.5L405.6,763.5L406.1,766.3L406.6,767.2L407.1,766.5L407.6,764.2L408.1,760.9L408.6,757L409.1,753.1L409.7,749.8L410.2,747.6L410.7,746.8L411.2,747.5L411.7,749.6L412.2,752.7L412.7,756.4L413.2,760.1L413.8,763.2L414.3,765.3L414.8,766L415.3,765.3L415.8,763.3L416.3,760.3L416.8,756.7L417.3,753.1L417.9,750.1L418.4,748.1L418.9,747.4L419.4,747.9L419.9,749.6L420.4,752.1L420.9,755.1L421.4,758.1L421.9,760.6L422.5,762.2L423,762.8L423.5,762.2L424,760.6L424.5,758.1L425,755.1L425.5,752.1L426,749.6L426.6,747.9L427.1,747.4L427.6,747.8L428.1,749.2L428.6,751.1L429.1,753.5L429.6,755.8L430.1,757.8L430.7,759.2L431.2,759.6L431.7,759.2L432.2,757.8L432.7,755.8L433.2,753.5L433.7,751.1L434.2,749.2L434.8,747.8L435.3,747.4L435.8,747.8L436.3,748.9L436.8,750.6L437.3,752.6L437.8,754.6L438.3,756.3L438.8,757.5L439.4,757.9L439.9,757.5L440.4,756.3L440.9,754.6L441.4,752.6L441.9,750.6L442.4,748.9L442.9,747.8L443.5,747.4L444,747.7L444.5,748.7L445,750.1L445.5,751.8L446,753.5L446.5,755L447,755.9L447.6,756.3L448.1,755.9L448.6,755L449.1,753.5L449.6,751.8L450.1,750.1L450.6,748.7L451.1,747.7L451.7,747.4L452.2,747.6L452.7,748.4L453.2,749.6L453.7,751L454.2,752.4L454.7,753.6L455.2,754.4L455.8,754.7L456.3,754.4L456.8,753.8L457.3,752.9L457.8,751.7L458.3,750.6L458.8,749.7L459.3,749L459.8,748.8L461,748.8L462.1,748.7L463.2,748.7L464.3,748.6L465.4,748.5L466.6,748.4L467.7,748.4L468.8,748.4L470.1,748.5L471.3,748.8L472.6,749.3L473.9,749.8L475.2,750.4L476.5,750.9L477.7,751.2L479,751.3L480.8,751.6L482.6,752.2L484.4,753.2L486.1,754.3L487.9,755.5L489.7,756.4L491.5,757.1L493.3,757.3L494.6,757.1L495.8,756.4L497.1,755.5L498.4,754.3L499.7,753.2L500.9,752.2L502.2,751.6L503.5,751.3L504.8,751.3L506,751.2L507.3,751L508.6,750.8L509.9,750.6L511.1,750.5L512.4,750.4L513.7,750.3" fill="none" stroke="#ff7f0e" stroke-width="4.4" stroke-dasharray="5.2 6.2" stroke-linejoin="round"/>
<path d="M105.5,930.3v6.2M207.6,930.3v6.2M309.6,930.3v6.2M411.7,930.3v6.2M513.7,930.3v6.2M105.5,532.6h-6.2M105.5,632h-6.2M105.5,731.5h-6.2M105.5,830.9h-6.2M105.5,930.3h-6.2" stroke="#000" stroke-width="1.2" fill="none"/>
<text x="105.7" y="962.5" font-family='"DejaVu Sans", "Liberation Sans", sans-serif' font-size="25.6" text-anchor="middle" fill="#000">20</text>
<text x="207.75" y="962.5" font-family='"DejaVu Sans", "Liberation Sans", sans-serif' font-size="25.6" text-anchor="middle" fill="#000">25</text>
<text x="309.8" y="962.5" font-family='"DejaVu Sans", "Liberation Sans", sans-serif' font-size="25.6" text-anchor="middle" fill="#000">30</text>
<text x="411.85" y="962.5" font-family='"DejaVu Sans", "Liberation Sans", sans-serif' font-size="25.6" text-anchor="middle" fill="#000">35</text>
<text x="513.9" y="962.5" font-family='"DejaVu Sans", "Liberation Sans", sans-serif' font-size="25.6" text-anchor="middle" fill="#000">40</text>
<text x="93.1" y="542.2" font-family='"DejaVu Sans", "Liberation Sans", sans-serif' font-size="25.6" text-anchor="end" fill="#000">10</text>
<text x="93.1" y="641.62" font-family='"DejaVu Sans", "Liberation Sans", sans-serif' font-size="25.6" text-anchor="end" fill="#000">5</text>
<text x="93.1" y="741.05" font-family='"DejaVu Sans", "Liberation Sans", sans-serif' font-size="25.6" text-anchor="end" fill="#000">0</text>
<text x="93.1" y="840.48" font-family='"DejaVu Sans", "Liberation Sans", sans-serif' font-size="25.6" text-anchor="end" fill="#000">−5</text>
<text x="93.1" y="939.9" font-family='"DejaVu Sans", "Liberation Sans", sans-serif' font-size="25.6" text-anchor="end" fill="#000">−10</text>
<rect x="105.5" y="532.6" width="408.2" height="397.7" fill="none" stroke="#000" stroke-width="2.9"/>
<text x="318.7" y="997.6" font-family='"DejaVu Sans", "Liberation Sans", sans-serif' font-size="30.3" text-anchor="middle" fill="#000" word-spacing="2.3">Time [µs]</text>
<text transform="translate(25.8,731.9) rotate(-90)" font-family='"DejaVu Sans", "Liberation Sans", sans-serif' font-size="29.35" text-anchor="middle" fill="#000">Amplitude [mV]</text>
<text x="6.9" y="993.6" font-family='"Liberation Sans", "DejaVu Sans", sans-serif' font-size="52" text-anchor="start" fill="#000" font-weight="bold">c)</text>
</g>
<g id="pd">
<path d="M713.4,725.5L713.7,725.4L714,725L714.3,724.6L714.6,724L714.9,723.4L715.2,722.9L715.5,722.6L715.8,722.5L716.4,722.8L716.9,723.8L717.4,725.3L717.9,727L718.4,728.7L718.9,730.1L719.4,731.1L719.9,731.5L720.3,731.3L720.6,731L720.9,730.5L721.3,730L721.6,729.4L721.9,728.9L722.3,728.6L722.6,728.5L723.1,728.8L723.7,729.9L724.3,731.5L724.8,733.4L725.4,735.3L726,737L726.5,738L727.1,738.4L727.6,733.1L728.1,718L728.6,695.4L729.1,668.8L729.6,642.2L730.1,619.6L730.6,604.5L731.1,599.2L731.6,606.4L732.1,627L732.6,657.8L733.1,694.2L733.6,730.5L734.1,761.3L734.6,781.9L735.1,789.1L735.6,782.8L736.2,764.9L736.7,738L737.2,706.3L737.7,674.6L738.3,647.7L738.8,629.8L739.3,623.5L739.8,630.3L740.4,649.8L740.9,678.9L741.4,713.2L741.9,747.5L742.5,776.6L743,796.1L743.5,802.9L744,796.4L744.5,778L745,750.4L745.5,717.8L746,685.2L746.5,657.6L747,639.2L747.5,632.7L748,639.4L748.5,658.5L749,687L749.6,720.7L750.1,754.3L750.6,782.9L751.1,802L751.7,808.7L752.2,802.1L752.7,783.4L753.2,755.5L753.7,722.5L754.2,689.5L754.7,661.6L755.2,642.9L755.7,636.4L756.2,643.2L756.7,662.5L757.2,691.5L757.7,725.7L758.2,759.8L758.7,788.8L759.2,808.1L759.7,814.9L760.3,808.4L760.8,789.9L761.3,762.2L761.8,729.6L762.3,696.9L762.9,669.2L763.4,650.7L763.9,644.2L764.4,651.3L764.9,671.5L765.4,701.8L765.9,737.4L766.4,773.1L766.9,803.3L767.4,823.5L767.9,830.6L768.4,824.1L768.9,805.4L769.5,777.5L770,744.5L770.5,711.5L771,683.6L771.6,664.9L772.1,658.4L772.6,664.7L773.1,682.8L773.6,709.9L774.1,741.9L774.6,773.8L775.1,800.9L775.7,819.1L776.2,825.4L776.7,819.2L777.2,801.3L777.7,774.7L778.3,743.2L778.8,711.7L779.3,685.1L779.8,667.2L780.4,661L780.8,667.4L781.3,685.9L781.8,713.4L782.3,746L782.8,778.5L783.3,806.1L783.8,824.5L784.3,831L784.9,824.4L785.4,805.9L785.9,778.2L786.4,745.4L786.9,712.7L787.5,685L788,666.4L788.5,659.9L789,666.8L789.5,686.4L790,715.7L790.5,750.3L791,784.8L791.5,814.1L792,833.7L792.5,840.6L793,834.6L793.5,817.5L794.1,791.9L794.6,761.8L795.1,731.6L795.6,706L796.2,689L796.7,683L797.1,690L797.6,710.1L798.1,740.2L798.5,775.6L799,811.1L799.4,841.2L799.9,861.3L800.3,868.3L800.9,861.1L801.4,840.4L802,809.5L802.5,773L803.1,736.6L803.6,705.6L804.2,685L804.7,677.7L805.2,684.5L805.7,703.9L806.1,733L806.6,767.3L807,801.5L807.5,830.6L808,850L808.4,856.8L808.9,849.8L809.5,829.6L810,799.5L810.5,764L811,728.5L811.5,698.4L812.1,678.3L812.6,671.2L813.1,678.3L813.6,698.3L814.2,728.2L814.7,763.5L815.2,798.8L815.7,828.7L816.3,848.7L816.8,855.8L817.3,848.9L817.8,829.3L818.4,800L818.9,765.4L819.4,730.9L819.9,701.6L820.4,682L821,675.1L821.5,681.6L822,700.1L822.5,727.8L823.1,760.5L823.6,793.1L824.1,820.8L824.6,839.3L825.2,845.8L825.7,839L826.2,819.8L826.7,790.9L827.3,756.8L827.8,722.7L828.3,693.9L828.8,674.6L829.3,667.8L829.8,674.1L830.3,692.2L830.8,719.3L831.3,751.3L831.8,783.3L832.3,810.4L832.8,828.5L833.3,834.8L833.8,827.8L834.4,807.9L834.9,778L835.4,742.8L835.9,707.5L836.5,677.7L837,657.7L837.5,650.7L838,657.3L838.5,676L839,704.1L839.6,737.1L840.1,770.2L840.6,798.2L841.1,816.9L841.6,823.5L842.1,816.9L842.6,798L843.1,769.8L843.6,736.5L844.1,703.2L844.7,674.9L845.2,656.1L845.7,649.5L846.2,655.8L846.6,673.9L847.1,701L847.6,733L848.1,764.9L848.6,792L849.1,810.2L849.6,816.5L850.1,810.4L850.6,793.1L851.2,767.2L851.7,736.6L852.2,706.1L852.8,680.2L853.3,662.9L853.8,656.8L854.3,663.3L854.8,681.8L855.3,709.5L855.7,742.1L856.2,774.8L856.7,802.5L857.1,821L857.6,827.5L858.1,822L858.7,806.5L859.2,783.2L859.7,755.8L860.2,728.3L860.8,705L861.3,689.5L861.8,684L862.3,687.8L862.8,698.6L863.4,714.7L863.9,733.8L864.4,752.8L864.9,769L865.5,779.7L866,783.5L866.4,778.6L866.8,764.5L867.2,743.5L867.7,718.7L868.1,693.9L868.5,672.8L868.9,658.8L869.3,653.9L869.9,658.8L870.5,673L871.1,694.2L871.7,719.2L872.3,744.2L872.9,765.4L873.5,779.6L874,784.6L874.5,779.8L874.9,766.1L875.3,745.7L875.8,721.6L876.2,697.5L876.6,677.1L877.1,663.5L877.5,658.7L878.1,663.6L878.7,677.6L879.3,698.5L879.9,723.2L880.4,747.9L881,768.8L881.6,782.8L882.2,787.7L882.6,782.9L883.1,769L883.5,748.3L883.9,723.9L884.4,699.5L884.8,678.8L885.2,665L885.7,660.1L886.2,665L886.8,679L887.4,699.8L888,724.5L888.5,749.1L889.1,769.9L889.7,783.9L890.3,788.8L890.7,784L891.2,770.4L891.7,750.1L892.1,726.2L892.6,702.2L893,681.9L893.5,668.4L893.9,663.6L894.5,668.3L895.1,681.6L895.6,701.6L896.2,725.1L896.8,748.7L897.3,768.6L897.9,782L898.4,786.7L898.9,781.4L899.4,766.4L899.8,744L900.3,717.5L900.7,691.1L901.2,668.7L901.6,653.7L902.1,648.4L902.7,653.8L903.2,669.3L903.8,692.4L904.4,719.6L904.9,746.9L905.5,770L906,785.4L906.6,790.9L907.1,786.4L907.5,773.5L908,754.3L908.4,731.7L908.9,709L909.4,689.8L909.8,677L910.3,672.5L910.8,677.3L911.4,690.9L911.9,711.3L912.5,735.3L913,759.4L913.6,779.8L914.1,793.4L914.7,798.2L915.1,793.6L915.6,780.4L916,760.7L916.5,737.4L917,714.2L917.4,694.5L917.9,681.3L918.3,676.7L918.8,681.4L919.4,694.8L919.9,714.8L920.4,738.4L920.9,762.1L921.4,782.1L921.9,795.5L922.4,800.2L922.9,795.7L923.4,783L923.9,764L924.4,741.6L924.9,719.1L925.4,700.1L925.9,687.4L926.4,682.9L926.8,687.5L927.3,700.6L927.7,720.2L928.2,743.2L928.7,766.3L929.1,785.9L929.6,799L930.1,803.5L930.4,802.3L930.8,798.8L931.2,793.6L931.6,787.4L932,781.2L932.3,776L932.7,772.5L933.1,771.2L933.4,773.5L933.7,780.1L934.1,789.9L934.4,801.5L934.7,813.1L935,823L935.3,829.6L935.7,831.9L936.2,828.4L936.8,818.5L937.3,803.6L937.9,786.1L938.5,768.6L939,753.7L939.6,743.8L940.2,740.3L940.6,742.6L941,749.1L941.5,758.8L941.9,770.2L942.4,781.7L942.8,791.4L943.3,797.9L943.7,800.2L944.3,797.5L944.9,790.1L945.4,778.9L946,765.7L946.5,752.5L947.1,741.3L947.7,733.8L948.2,731.2L948.7,733.6L949.1,740.7L949.6,751.3L950,763.7L950.5,776.2L950.9,786.7L951.4,793.8L951.8,796.2L952.4,793.7L953,786.3L953.5,775.3L954.1,762.3L954.7,749.3L955.3,738.3L955.8,731L956.4,728.4L956.9,730.8L957.3,737.7L957.8,747.9L958.2,760.1L958.7,772.2L959.1,782.5L959.6,789.4L960,791.8L960.6,789.3L961.1,782.3L961.7,771.8L962.2,759.5L962.8,747.2L963.4,736.7L963.9,729.7L964.5,727.2L964.9,730L965.4,737.8L965.8,749.4L966.3,763.1L966.7,776.9L967.2,788.5L967.6,796.3L968.1,799.1L968.6,796.3L969.2,788.4L969.8,776.5L970.3,762.6L970.9,748.6L971.4,736.8L972,728.9L972.6,726.1L973.1,729.2L973.7,738.1L974.3,751.4L974.9,767.1L975.4,782.7L976,796L976.6,804.9L977.2,808L977.7,804L978.2,792.5L978.7,775.3L979.2,755L979.8,734.7L980.3,717.5L980.8,706L981.3,702L981.8,705.3L982.3,714.6L982.8,728.5L983.3,744.9L983.8,761.3L984.3,775.3L984.7,784.6L985.2,787.8L985.8,784.3L986.3,774.4L986.8,759.4L987.3,741.8L987.8,724.2L988.4,709.3L988.9,699.3L989.4,695.8L989.9,699.4L990.4,709.5L990.9,724.6L991.4,742.4L991.9,760.2L992.4,775.3L992.9,785.4L993.4,789L993.9,785.6L994.4,775.9L994.9,761.4L995.4,744.4L995.9,727.3L996.4,712.8L996.9,703.2L997.4,699.8L997.8,702.2L998.3,709.3L998.7,719.9L999.1,732.3L999.6,744.8L1000,755.3L1000.5,762.4L1000.9,764.8L1001.5,761.8L1002,753.3L1002.5,740.4L1003,725.3L1003.5,710.2L1004.1,697.3L1004.6,688.8L1005.1,685.7L1005.6,689.2L1006.1,699L1006.6,713.6L1007.1,730.9L1007.5,748.2L1008,762.8L1008.5,772.6L1009,776.1L1009.5,773.2L1010,765.2L1010.5,753.2L1011,739L1011.5,724.9L1012,712.9L1012.6,704.8L1013.1,702L1013.6,705L1014.1,713.6L1014.6,726.4L1015.1,741.6L1015.6,756.7L1016.2,769.5L1016.7,778.1L1017.2,781.1L1017.8,777.5L1018.4,767.1L1019,751.7L1019.6,733.4L1020.1,715.2L1020.7,699.7L1021.3,689.4L1021.9,685.7L1022.4,689.7L1022.8,701L1023.3,718L1023.8,737.9L1024.2,757.9L1024.7,774.8L1025.2,786.1L1025.6,790.1L1026.2,786.6L1026.7,776.9L1027.3,762.2L1027.9,744.9L1028.4,727.6L1029,713L1029.5,703.2L1030.1,699.8L1030.6,703.5L1031,714.1L1031.5,730.1L1032,748.8L1032.4,767.6L1032.9,783.6L1033.3,794.2L1033.8,797.9L1034.4,794.8L1035,785.9L1035.6,772.5L1036.2,756.7L1036.7,740.9L1037.3,727.5L1037.9,718.6L1038.5,715.5L1039,718.9L1039.4,728.8L1039.9,743.5L1040.4,760.9L1040.8,778.3L1041.3,793L1041.8,802.9L1042.2,806.3L1042.8,802.9L1043.3,793.3L1043.9,778.8L1044.4,761.7L1045,744.7L1045.5,730.2L1046,720.5L1046.6,717.2L1047.1,720.2L1047.5,729L1048,742.1L1048.4,757.5L1048.9,773L1049.4,786.1L1049.8,794.9L1050.3,797.9L1050.9,794.6L1051.5,785.1L1052.1,770.8L1052.6,754L1053.2,737.2L1053.8,723L1054.4,713.4L1055,710.1L1055.4,713.2L1055.9,722.2L1056.3,735.6L1056.7,751.5L1057.2,767.3L1057.6,780.8L1058,789.7L1058.5,792.9L1059.1,789.3L1059.7,779.2L1060.2,764L1060.8,746L1061.4,728.1L1062,712.9L1062.6,702.8L1063.2,699.2L1064.2,702.3L1065.2,711.1L1066.1,724.3L1067.1,739.9L1068.1,755.4L1069.1,768.6L1070.1,777.5L1071,780.5L1071.8,780.1L1072.6,778.7L1073.4,776.6L1074.1,774.2L1074.9,771.7L1075.7,769.7L1076.4,768.3L1077.2,767.8L1077.6,768.3L1078.1,769.7L1078.5,771.7L1078.9,774.2L1079.3,776.6L1079.7,778.7L1080.2,780.1L1080.6,780.5L1081.1,779.9L1081.6,778.2L1082,775.6L1082.5,772.5L1083,769.4L1083.5,766.8L1084,765.1L1084.5,764.4L1084.9,765.1L1085.3,767L1085.6,769.8L1086,773.1L1086.4,776.4L1086.8,779.1L1087.1,781L1087.5,781.7L1088.1,781.1L1088.6,779.5L1089.1,777L1089.7,774.2L1090.2,771.3L1090.7,768.9L1091.3,767.3L1091.8,766.7L1092.1,767.3L1092.5,768.9L1092.8,771.3L1093.2,774.2L1093.5,777L1093.9,779.5L1094.2,781.1L1094.6,781.7L1095,781.5L1095.4,781L1095.9,780.3L1096.3,779.5L1096.7,778.7L1097.1,778L1097.5,777.5L1098,777.3L1098.7,777.7L1099.4,778.5L1100.1,779.9L1100.8,781.5L1101.5,783L1102.2,784.4L1102.9,785.3L1103.6,785.6L1104.5,785.2L1105.4,784.1L1106.3,782.4L1107.2,780.3L1108.1,778.3L1109,776.6L1109.9,775.5L1110.9,775.1L1111.4,775.1L1112,775.2L1112.5,775.4L1113.1,775.6L1113.7,775.8L1114.2,775.9L1114.8,776L1115.3,776.1L1116,775.9L1116.6,775.3L1117.2,774.4L1117.9,773.3L1118.5,772.3L1119.1,771.4L1119.8,770.8L1120.4,770.6L1120.6,770.6L1120.7,770.6L1120.9,770.5L1121,770.4L1121.2,770.3L1121.4,770.3L1121.5,770.2L1121.7,770.2" fill="none" stroke="#808080" stroke-width="5.2" stroke-linejoin="round" stroke-linecap="butt"/>
<path d="M713.4,741.4L714.2,741.3L714.9,741L715.7,740.5L716.5,739.9L717.2,739.3L718,738.8L718.8,738.5L719.5,738.4L720.3,738.5L721.2,738.8L722,739.3L722.8,739.9L723.6,740.5L724.4,741L725.2,741.3L726.1,741.4L726.7,736.7L727.4,723.3L728.1,703.3L728.8,679.7L729.5,656.2L730.2,636.2L730.9,622.8L731.6,618.1L732.1,626.3L732.6,649.6L733.1,684.4L733.6,725.5L734.1,766.6L734.6,801.4L735.2,824.7L735.7,832.9L736.2,826.4L736.7,807.9L737.2,780.3L737.7,747.8L738.2,715.2L738.7,687.6L739.3,669.1L739.8,662.6L740.3,669.1L740.8,687.7L741.3,715.4L741.8,748.1L742.3,780.7L742.8,808.4L743.4,827L743.9,833.5L744.4,827L744.9,808.5L745.4,780.9L745.9,748.4L746.4,715.8L746.9,688.2L747.5,669.7L748,663.2L748.5,670L749,689.4L749.5,718.4L750,752.5L750.5,786.7L751,815.7L751.5,835L752.1,841.8L752.6,834.7L753.1,814.6L753.6,784.5L754.1,748.9L754.6,713.4L755.1,683.3L755.6,663.2L756.2,656.1L756.7,662.3L757.2,680L757.7,706.5L758.2,737.7L758.7,769L759.2,795.4L759.7,813.1L760.3,819.3L760.8,812.6L761.3,793.3L761.8,764.5L762.3,730.6L762.8,696.6L763.3,667.8L763.8,648.5L764.4,641.8L764.9,648.8L765.4,668.7L765.9,698.6L766.4,733.8L766.9,769.1L767.4,798.9L767.9,818.9L768.5,825.9L769,818.9L769.5,799L770,769.2L770.5,734L771,698.9L771.5,669.1L772,649.2L772.6,642.2L773.1,649.5L773.6,670.5L774.1,701.9L774.6,738.9L775.1,775.9L775.6,807.3L776.1,828.3L776.7,835.6L777.2,828.5L777.7,808L778.2,777.3L778.7,741.2L779.2,705L779.7,674.4L780.2,653.9L780.7,646.7L781.3,653.9L781.8,674.4L782.3,705L782.8,741.2L783.3,777.3L783.8,808L784.3,828.5L784.8,835.6L785.4,828.3L785.9,807.3L786.4,775.8L786.9,738.7L787.4,701.6L787.9,670.2L788.4,649.1L788.9,641.8L789.5,648.9L790,669.4L790.5,700L791,736L791.5,772.1L792,802.7L792.5,823.1L793,830.3L793.6,823.6L794.1,804.8L794.6,776.5L795.1,743.2L795.6,709.9L796.1,681.6L796.6,662.7L797.1,656.1L797.7,662.5L798.2,680.8L798.7,708.2L799.2,740.5L799.7,772.8L800.2,800.2L800.7,818.5L801.2,824.9L801.8,818.5L802.3,800.2L802.8,772.9L803.3,740.7L803.8,708.5L804.3,681.1L804.8,662.9L805.3,656.5L805.9,663.1L806.4,681.9L806.9,710.1L807.4,743.4L807.9,776.6L808.4,804.8L808.9,823.7L809.4,830.3L809.9,823.4L810.5,803.7L811,774.3L811.5,739.6L812,704.9L812.5,675.5L813,655.8L813.5,648.9L814,655.9L814.6,675.9L815.1,705.7L815.6,740.9L816.1,776.1L816.6,805.9L817.1,825.9L817.6,832.9L818.1,825.7L818.7,805.4L819.2,775L819.7,739.2L820.2,703.4L820.7,673L821.2,652.7L821.7,645.5L822.2,652.7L822.8,673L823.3,703.5L823.8,739.4L824.3,775.3L824.8,805.8L825.3,826.1L825.8,833.3L826.3,826.2L826.9,806.2L827.4,776.2L827.9,740.8L828.4,705.4L828.9,675.4L829.4,655.4L829.9,648.3L830.4,655.6L831,676.3L831.5,707.4L832,744L832.5,780.6L833,811.6L833.5,832.3L834,839.6L834.5,832.6L835.1,812.4L835.6,782.3L836.1,746.8L836.6,711.2L837.1,681.1L837.6,661L838.1,653.9L838.6,661.3L839.2,682.3L839.7,713.7L840.2,750.8L840.7,787.9L841.2,819.4L841.7,840.4L842.2,847.8L842.7,840.4L843.2,819.4L843.8,787.9L844.3,750.8L844.8,713.7L845.3,682.3L845.8,661.3L846.3,653.9L846.8,661.3L847.3,682.4L847.9,714L848.4,751.3L848.9,788.6L849.4,820.2L849.9,841.4L850.4,848.8L850.9,841.7L851.4,821.7L852,791.7L852.5,756.3L853,720.9L853.5,690.9L854,670.9L854.5,663.8L855,670.8L855.5,690.5L856.1,719.9L856.6,754.7L857.1,789.5L857.6,819L858.1,838.7L858.6,845.6L859.1,838.6L859.6,818.8L860.2,789.2L860.7,754.2L861.2,719.3L861.7,689.6L862.2,669.8L862.7,662.8L863.2,669.4L863.7,687.9L864.3,715.8L864.8,748.6L865.3,781.3L865.8,809.2L866.3,827.7L866.8,834.3L867.3,827.8L867.8,809.6L868.4,782.3L868.9,750L869.4,717.8L869.9,690.5L870.4,672.2L870.9,665.8L871.4,672.2L871.9,690.3L872.4,717.4L873,749.3L873.5,781.3L874,808.4L874.5,826.5L875,832.9L875.5,826.5L876,808.3L876.5,781.2L877.1,749.1L877.6,717.1L878.1,690L878.6,671.8L879.1,665.4L879.6,671.8L880.1,689.8L880.6,716.9L881.2,748.7L881.7,780.6L882.2,807.7L882.7,825.7L883.2,832.1L883.7,825.7L884.2,807.5L884.7,780.3L885.3,748.3L885.8,716.2L886.3,689L886.8,670.8L887.3,664.4L887.8,670.8L888.3,689L888.8,716.3L889.4,748.5L889.9,780.6L890.4,807.9L890.9,826.1L891.4,832.5L891.9,826.2L892.4,808.4L892.9,781.8L893.5,750.3L894,718.9L894.5,692.3L895,674.5L895.5,668.2L896,674.7L896.5,693.1L897,720.6L897.6,753L898.1,785.5L898.6,813L899.1,831.4L899.6,837.8L900.1,831.4L900.6,812.9L901.1,785.4L901.6,752.8L902.2,720.3L902.7,692.7L903.2,674.3L903.7,667.8L904.2,674.3L904.7,692.8L905.2,720.4L905.7,753L906.3,785.6L906.8,813.3L907.3,831.7L907.8,838.2L908.3,831.7L908.8,813.2L909.3,785.4L909.8,752.7L910.4,720L910.9,692.3L911.4,673.7L911.9,667.2L912.4,673.8L912.9,692.4L913.4,720.3L913.9,753.2L914.5,786.1L915,814L915.5,832.7L916,839.2L916.5,832.8L917,814.4L917.5,786.9L918,754.5L918.6,722.1L919.1,694.6L919.6,676.3L920.1,669.8L920.6,676.1L921.1,694L921.6,720.7L922.1,752.3L922.7,783.9L923.2,810.7L923.7,828.6L924.2,834.9L924.7,828.5L925.2,810.5L925.7,783.6L926.2,751.8L926.8,720.1L927.3,693.1L927.8,675.1L928.3,668.8L928.8,675.2L929.3,693.4L929.8,720.7L930.3,752.8L930.8,785L931.4,812.2L931.9,830.4L932.4,836.8L933.9,832.5L935.5,820.3L937,801.9L938.5,780.2" fill="none" stroke="#de2424" stroke-width="3.7" stroke-dasharray="7 7" stroke-linejoin="round"/>
<path d="M938.5,780.2L940.1,758.6L941.6,740.2L943.1,727.9L944.7,723.6L945.2,725.2L945.7,729.7L946.2,736.5L946.7,744.5L947.2,752.5L947.8,759.3L948.3,763.8L948.8,765.4L949.3,764.1L949.8,760.2L950.3,754.5L950.8,747.7L951.3,741L951.9,735.2L952.4,731.4L952.9,730.1L953.4,731.5L953.9,735.5L954.4,741.6L954.9,748.7L955.4,755.9L956,761.9L956.5,766L957,767.4L957.5,766.3L958,763.1L958.5,758.3L959,752.7L959.5,747.1L960.1,742.3L960.6,739.2L961.1,738.1L961.6,739.2L962.1,742.6L962.6,747.7L963.1,753.7L963.6,759.7L964.1,764.7L964.7,768.1L965.2,769.3L965.7,768.2L966.2,764.9L966.7,760.1L967.2,754.4L967.7,748.6L968.2,743.8L968.8,740.5L969.3,739.4L969.8,740.6L970.3,744L970.8,749L971.3,754.9L971.8,760.9L972.3,765.9L972.9,769.3L973.4,770.5L973.9,769.2L974.4,765.4L974.9,759.8L975.4,753.2L975.9,746.6L976.4,741L977,737.3L977.5,736L978,737.4L978.5,741.4L979,747.4L979.5,754.5L980,761.6L980.5,767.7L981.1,771.7L981.6,773.1L982.1,771.6L982.6,767.5L983.1,761.3L983.6,753.9L984.1,746.6L984.6,740.4L985.2,736.2L985.7,734.8L986.2,736.4L986.7,741.2L987.2,748.3L987.7,756.7L988.2,765.1L988.7,772.3L989.3,777L989.8,778.7L990.3,777L990.8,772.1L991.3,764.9L991.8,756.3L992.3,747.8L992.8,740.5L993.3,735.7L993.9,734L994.4,735.9L994.9,741.3L995.4,749.5L995.9,759.1L996.4,768.8L996.9,776.9L997.4,782.4L998,784.3L998.5,782.3L999,776.8L999.5,768.4L1000,758.6L1000.5,748.8L1001,740.5L1001.5,734.9L1002.1,733L1002.6,734.8L1003.1,740.1L1003.6,748L1004.1,757.4L1004.6,766.7L1005.1,774.6L1005.6,779.9L1006.2,781.8L1006.7,779.8L1007.2,774.4L1007.7,766.3L1008.2,756.7L1008.7,747.1L1009.2,739L1009.7,733.6L1010.3,731.6L1010.8,733.5L1011.3,738.6L1011.8,746.3L1012.3,755.4L1012.8,764.5L1013.3,772.2L1013.8,777.4L1014.4,779.2L1014.9,777.1L1015.4,771.2L1015.9,762.3L1016.4,751.9L1016.9,741.5L1017.4,732.6L1017.9,726.7L1018.5,724.6L1019,726.7L1019.5,732.6L1020,741.5L1020.5,751.9L1021,762.3L1021.5,771.2L1022,777.1L1022.5,779.2L1023.1,776.9L1023.6,770.4L1024.1,760.8L1024.6,749.3L1025.1,737.9L1025.6,728.3L1026.1,721.8L1026.6,719.5L1027.2,721.8L1027.7,728.3L1028.2,737.9L1028.7,749.3L1029.2,760.8L1029.7,770.4L1030.2,776.9L1030.7,779.2L1031.3,776.9L1031.8,770.4L1032.3,760.8L1032.8,749.3L1033.3,737.9L1033.8,728.3L1034.3,721.8L1034.8,719.5L1035.4,721.8L1035.9,728.3L1036.4,737.9L1036.9,749.3L1037.4,760.8L1037.9,770.4L1038.4,776.9L1038.9,779.2L1039.5,776.9L1040,770.4L1040.5,760.8L1041,749.3L1041.5,737.9L1042,728.3L1042.5,721.8L1043,719.5L1043.6,721.8L1044.1,728.3L1044.6,737.9L1045.1,749.3L1045.6,760.8L1046.1,770.4L1046.6,776.9L1047.1,779.2L1047.7,776.9L1048.2,770.4L1048.7,760.8L1049.2,749.3L1049.7,737.9L1050.2,728.3L1050.7,721.8L1051.2,719.5L1051.7,721.8L1052.3,728.3L1052.8,737.9L1053.3,749.3L1053.8,760.8L1054.3,770.4L1054.8,776.9L1055.3,779.2L1055.8,776.9L1056.4,770.4L1056.9,760.8L1057.4,749.3L1057.9,737.9L1058.4,728.3L1058.9,721.8L1059.4,719.5L1059.9,721.8L1060.5,728.3L1061,737.9L1061.5,749.3L1062,760.8L1062.5,770.4L1063,776.9L1063.5,779.2L1064.6,778.5L1065.6,776.6L1066.6,773.7L1067.6,770.2L1068.6,766.8L1069.6,763.9L1070.7,762L1071.7,761.3L1073.3,760.7L1075,759.2L1076.7,757L1078.3,754.3L1080,751.7L1081.6,749.4L1083.3,747.9L1085,747.4L1086.2,747.7L1087.5,748.8L1088.8,750.4L1090.1,752.3L1091.3,754.2L1092.6,755.8L1093.9,756.9L1095.2,757.3L1096.2,757.1L1097.2,756.6L1098.2,755.8L1099.2,754.8L1100.3,753.9L1101.3,753.1L1102.3,752.5L1103.3,752.3L1104.3,752.5L1105.4,753.1L1106.4,753.9L1107.4,754.8L1108.4,755.8L1109.5,756.6L1110.5,757.1L1111.5,757.3L1112.8,757.3L1114,757.3L1115.3,757.3L1116.6,757.3L1117.9,757.3L1119.1,757.3L1120.4,757.3L1121.7,757.3" fill="none" stroke="#de2424" stroke-width="4.4" stroke-dasharray="5.2 6.2" stroke-linejoin="round"/>
<path d="M713.4,930.3v6.2M815.5,930.3v6.2M917.5,930.3v6.2M1019.6,930.3v6.2M1121.7,930.3v6.2M713.4,532.6h-6.2M713.4,632h-6.2M713.4,731.5h-6.2M713.4,830.9h-6.2M713.4,930.3h-6.2" stroke="#000" stroke-width="1.2" fill="none"/>
<text x="713.6" y="962.5" font-family='"DejaVu Sans", "Liberation Sans", sans-serif' font-size="25.6" text-anchor="middle" fill="#000">20</text>
<text x="815.68" y="962.5" font-family='"DejaVu Sans", "Liberation Sans", sans-serif' font-size="25.6" text-anchor="middle" fill="#000">25</text>
<text x="917.75" y="962.5" font-family='"DejaVu Sans", "Liberation Sans", sans-serif' font-size="25.6" text-anchor="middle" fill="#000">30</text>
<text x="1019.83" y="962.5" font-family='"DejaVu Sans", "Liberation Sans", sans-serif' font-size="25.6" text-anchor="middle" fill="#000">35</text>
<text x="1121.9" y="962.5" font-family='"DejaVu Sans", "Liberation Sans", sans-serif' font-size="25.6" text-anchor="middle" fill="#000">40</text>
<text x="701" y="542.2" font-family='"DejaVu Sans", "Liberation Sans", sans-serif' font-size="25.6" text-anchor="end" fill="#000">10</text>
<text x="701" y="641.62" font-family='"DejaVu Sans", "Liberation Sans", sans-serif' font-size="25.6" text-anchor="end" fill="#000">5</text>
<text x="701" y="741.05" font-family='"DejaVu Sans", "Liberation Sans", sans-serif' font-size="25.6" text-anchor="end" fill="#000">0</text>
<text x="701" y="840.48" font-family='"DejaVu Sans", "Liberation Sans", sans-serif' font-size="25.6" text-anchor="end" fill="#000">−5</text>
<text x="701" y="939.9" font-family='"DejaVu Sans", "Liberation Sans", sans-serif' font-size="25.6" text-anchor="end" fill="#000">−10</text>
<rect x="713.4" y="532.6" width="408.3" height="397.7" fill="none" stroke="#000" stroke-width="2.9"/>
<text x="918.65" y="997.6" font-family='"DejaVu Sans", "Liberation Sans", sans-serif' font-size="30.3" text-anchor="middle" fill="#000" word-spacing="2.3">Time [µs]</text>
<text transform="translate(634,731.9) rotate(-90)" font-family='"DejaVu Sans", "Liberation Sans", sans-serif' font-size="29.35" text-anchor="middle" fill="#000">Amplitude [mV]</text>
<text x="608.4" y="993.6" font-family='"Liberation Sans", "DejaVu Sans", sans-serif' font-size="52" text-anchor="start" fill="#000" font-weight="bold">d)</text>
</g>
<g id="legends">
<path d="M319.5,362.8H352.7" stroke="#808080" stroke-width="4.4" fill="none"/>
<text x="359.7" y="372.7" font-family='"DejaVu Sans", "Liberation Sans", sans-serif' font-size="29.3" text-anchor="start" fill="#808080">Water</text>
<path d="M319.5,391.5H352.7" stroke="#000" stroke-width="4.4" stroke-dasharray="6 14.3 13 99" fill="none"/>
<text x="359.3" y="401.5" font-family='"DejaVu Sans", "Liberation Sans", sans-serif' font-size="29.3" text-anchor="start" fill="#000">Simulation</text>
<path d="M907.6,50.1H948.5" stroke="#808080" stroke-width="4.5" fill="none"/>
<text x="958" y="61.7" font-family='"DejaVu Sans", "Liberation Sans", sans-serif' font-size="37.6" text-anchor="start" fill="#808080">Water</text>
<path d="M908,85H948.5" stroke="#1f77b4" stroke-width="4.5" stroke-dasharray="13.3 13.9" fill="none"/>
<text x="956.6" y="97.35" font-family='"DejaVu Sans", "Liberation Sans", sans-serif' font-size="37.6" text-anchor="start" fill="#1f77b4">MB</text>
<path d="M297.7,575.6H338.1" stroke="#808080" stroke-width="4.5" fill="none"/>
<text x="349.6" y="586.1" font-family='"DejaVu Sans", "Liberation Sans", sans-serif' font-size="37.6" text-anchor="start" fill="#808080">Water</text>
<path d="M297.8,610.3H338.3" stroke="#ff7f0e" stroke-width="4.5" stroke-dasharray="13.5 13.6" fill="none"/>
<text x="348.3" y="621.6" font-family='"DejaVu Sans", "Liberation Sans", sans-serif' font-size="37.6" text-anchor="start" fill="#ff7f0e" letter-spacing="-0.3">MBink</text>
<path d="M860.2,569.7H900.8" stroke="#808080" stroke-width="4.5" fill="none"/>
<text x="913.2" y="580.9" font-family='"DejaVu Sans", "Liberation Sans", sans-serif' font-size="37.6" text-anchor="start" fill="#808080">Water</text>
<path d="M860.4,604H900.8" stroke="#d62728" stroke-width="4.5" stroke-dasharray="13.4 13.5" fill="none"/>
<text x="910.4" y="615.6" font-family='"DejaVu Sans", "Liberation Sans", sans-serif' font-size="37.6" text-anchor="start" fill="#d62728" letter-spacing="0.6">India ink</text>
</g>
<g id="pe">
<rect x="1377.6" y="15.8" width="624.8" height="368.7" fill="none" stroke="#000" stroke-width="3.4"/>
<path d="M1497.5,384.5v13.4M1679.5,384.5v13.4M1861.5,384.5v13.4M1377.6,15.8h-12.8M1377.6,163.3h-12.8M1377.6,310.8h-12.8" stroke="#000" stroke-width="3.2" fill="none"/>
<text transform="translate(1497.34,439.5) scale(0.97,1)" font-family='"Liberation Sans", "DejaVu Sans", sans-serif' font-size="34.8" text-anchor="middle" fill="#000" letter-spacing="5.6">400</text>
<text transform="translate(1679.34,439.5) scale(0.97,1)" font-family='"Liberation Sans", "DejaVu Sans", sans-serif' font-size="34.8" text-anchor="middle" fill="#000" letter-spacing="5.6">500</text>
<text transform="translate(1861.33,439.5) scale(0.97,1)" font-family='"Liberation Sans", "DejaVu Sans", sans-serif' font-size="34.8" text-anchor="middle" fill="#000" letter-spacing="5.6">600</text>
<text x="1687.8" y="479.7" font-family='"Liberation Sans", "DejaVu Sans", sans-serif' font-size="38" text-anchor="middle" fill="#000" letter-spacing="-0.3">Pulse period [ns]</text>
</g>
<g id="pf">
<rect x="1377.6" y="519.9" width="624.8" height="369.1" fill="none" stroke="#000" stroke-width="3.4"/>
<path d="M1497.5,889v13.4M1679.5,889v13.4M1861.5,889v13.4M1377.6,544.2h-12.8M1377.6,700.9h-12.8M1377.6,857.7h-12.8" stroke="#000" stroke-width="3.2" fill="none"/>
<text transform="translate(1497.34,944) scale(0.97,1)" font-family='"Liberation Sans", "DejaVu Sans", sans-serif' font-size="34.8" text-anchor="middle" fill="#000" letter-spacing="5.6">400</text>
<text transform="translate(1679.34,944) scale(0.97,1)" font-family='"Liberation Sans", "DejaVu Sans", sans-serif' font-size="34.8" text-anchor="middle" fill="#000" letter-spacing="5.6">500</text>
<text transform="translate(1861.33,944) scale(0.97,1)" font-family='"Liberation Sans", "DejaVu Sans", sans-serif' font-size="34.8" text-anchor="middle" fill="#000" letter-spacing="5.6">600</text>
<text x="1687.8" y="995.8" font-family='"Liberation Sans", "DejaVu Sans", sans-serif' font-size="38" text-anchor="middle" fill="#000" letter-spacing="-0.3">Pulse period [ns]</text>
</g>
<text transform="translate(1352.2,30.8) scale(0.94,1)" font-family='"Liberation Sans", "DejaVu Sans", sans-serif' font-size="36.1" text-anchor="end" fill="#000" letter-spacing="5.6">600</text>
<text transform="translate(1352.2,178.28) scale(0.94,1)" font-family='"Liberation Sans", "DejaVu Sans", sans-serif' font-size="36.1" text-anchor="end" fill="#000" letter-spacing="5.6">400</text>
<text transform="translate(1352.2,325.76) scale(0.94,1)" font-family='"Liberation Sans", "DejaVu Sans", sans-serif' font-size="36.1" text-anchor="end" fill="#000" letter-spacing="5.6">200</text>
<text transform="translate(1234.6,201.6) rotate(-90)" font-family='"Liberation Sans", "DejaVu Sans", sans-serif' font-size="37.3" text-anchor="middle" fill="#000">Amplitude [a.u]</text>
<text transform="translate(1351.3,558.59) scale(0.94,1)" font-family='"Liberation Sans", "DejaVu Sans", sans-serif' font-size="39" text-anchor="end" fill="#000" letter-spacing="3.4">0</text>
<text transform="translate(1351.3,715.32) scale(0.94,1)" font-family='"Liberation Sans", "DejaVu Sans", sans-serif' font-size="39" text-anchor="end" fill="#000" letter-spacing="3.4"><tspan letter-spacing="10.6">−</tspan>50</text>
<text transform="translate(1351.3,872.05) scale(0.94,1)" font-family='"Liberation Sans", "DejaVu Sans", sans-serif' font-size="39" text-anchor="end" fill="#000" letter-spacing="3.4"><tspan letter-spacing="10.6">−</tspan>100</text>
<text transform="translate(1234.6,706.3) rotate(-90)" font-family='"Liberation Sans", "DejaVu Sans", sans-serif' font-size="37.3" text-anchor="middle" fill="#000">Phase shift [°]</text>
<g id="edata">
<path d="M1406.5,254.6V291.5M1398.9,254.6h15.2M1398.9,291.5h15.2M1442.9,231.5V268.4M1435.3,231.5h15.2M1435.3,268.4h15.2M1497.5,254.5V284M1489.9,254.5h15.2M1489.9,284h15.2M1552.1,258.9V291.4M1544.5,258.9h15.2M1544.5,291.4h15.2M1624.9,302.8V328.6M1617.3,302.8h15.2M1617.3,328.6h15.2M1715.9,260V308.6M1708.3,260h15.2M1708.3,308.6h15.2M1843.3,270.9V315.2M1835.7,270.9h15.2M1835.7,315.2h15.2M1974.4,333.7V369.1M1966.8,333.7h15.2M1966.8,369.1h15.2" stroke="#1f77b4" stroke-width="3.6" fill="none"/>
<path d="M1406.5,358.2V377.3M1398.9,358.2h15.2M1398.9,377.3h15.2M1442.9,310.2V332.4M1435.3,310.2h15.2M1435.3,332.4h15.2M1496.8,224.5V271.7M1489.2,224.5h15.2M1489.2,271.7h15.2M1551.4,139.7V189.8M1543.8,139.7h15.2M1543.8,189.8h15.2M1624.9,157.2V195.6M1617.3,157.2h15.2M1617.3,195.6h15.2M1715.9,175.2V216.5M1708.3,175.2h15.2M1708.3,216.5h15.2M1842.6,91.1V146.7M1835,91.1h15.2M1835,146.7h15.2M1973.6,229.6V266.9M1966,229.6h15.2M1966,266.9h15.2" stroke="#ff7f0e" stroke-width="3.6" fill="none"/>
<path d="M1406.5,227.9V258.9M1398.9,227.9h15.2M1398.9,258.9h15.2M1442.9,191.4V223.4M1435.3,191.4h15.2M1435.3,223.4h15.2M1497.5,173.8V204.8M1489.9,173.8h15.2M1489.9,204.8h15.2M1552.1,160.2V192.6M1544.5,160.2h15.2M1544.5,192.6h15.2M1624.9,149.3V190.6M1617.3,149.3h15.2M1617.3,190.6h15.2M1716.7,178V211.9M1709.1,178h15.2M1709.1,211.9h15.2M1843.3,274.3V317.1M1835.7,274.3h15.2M1835.7,317.1h15.2M1970.4,314.5V341.1M1962.8,314.5h15.2M1962.8,341.1h15.2" stroke="#d62728" stroke-width="3.6" fill="none"/>
<path d="M1406.5,228.9V264.3M1398.9,228.9h15.2M1398.9,264.3h15.2M1442.9,196.8V230.8M1435.3,196.8h15.2M1435.3,230.8h15.2M1497.5,190.6V226.7M1489.9,190.6h15.2M1489.9,226.7h15.2M1553,168.9V200.9M1545.4,168.9h15.2M1545.4,200.9h15.2M1627.7,164.3V203.5M1620.1,164.3h15.2M1620.1,203.5h15.2M1717.8,116.5V160.7M1710.2,116.5h15.2M1710.2,160.7h15.2M1858.8,105.8V153M1851.2,105.8h15.2M1851.2,153h15.2M1970.2,81.4V130.1M1962.6,81.4h15.2M1962.6,130.1h15.2" stroke="#000" stroke-width="3.6" fill="none"/>
<path d="M1406.5,246.6L1442.9,213.8L1497.5,208.6L1553,184.9L1627.7,183.9L1717.8,138.6L1858.8,129.4L1970.2,105.8" stroke="#000" stroke-width="5" stroke-dasharray="5.2 9.6" fill="none"/>
<path d="M1406.5,367.8L1442.9,321.3L1496.8,248.1L1551.4,164.8L1624.9,176.4L1715.9,195.9L1842.6,118.9L1973.6,248.2" stroke="#ff7f0e" stroke-width="5" stroke-dasharray="5.2 9.6" fill="none"/>
<path d="M1406.5,273.1L1442.9,249.9L1497.5,269.2L1552.1,275.1L1624.9,315.7L1715.9,284.3L1843.3,293.1L1974.4,351.4" stroke="#1f77b4" stroke-width="5" stroke-dasharray="5.2 9.6" fill="none"/>
<path d="M1406.5,243.4L1442.9,207.4L1497.5,189.3L1552.1,176.4L1624.9,169.9L1716.7,194.9L1843.3,295.7L1970.4,327.8" stroke="#d62728" stroke-width="5" stroke-dasharray="5.2 9.6" fill="none"/>
<rect x="1393.74" y="233.81" width="25.6" height="25.6" fill="#000"/>
<rect x="1430.14" y="200.99" width="25.6" height="25.6" fill="#000"/>
<rect x="1484.74" y="195.83" width="25.6" height="25.6" fill="#000"/>
<rect x="1540.25" y="172.09" width="25.6" height="25.6" fill="#000"/>
<rect x="1614.87" y="171.13" width="25.6" height="25.6" fill="#000"/>
<rect x="1704.95" y="125.78" width="25.6" height="25.6" fill="#000"/>
<rect x="1846" y="116.56" width="25.6" height="25.6" fill="#000"/>
<rect x="1957.39" y="92.96" width="25.6" height="25.6" fill="#000"/>
<path d="M1393,367.8L1420,354.3L1420,381.3Z" fill="#ff7f0e"/>
<path d="M1429.4,321.3L1456.4,307.8L1456.4,334.8Z" fill="#ff7f0e"/>
<path d="M1483.3,248.1L1510.3,234.6L1510.3,261.6Z" fill="#ff7f0e"/>
<path d="M1537.9,164.8L1564.9,151.3L1564.9,178.3Z" fill="#ff7f0e"/>
<path d="M1611.4,176.4L1638.4,162.9L1638.4,189.9Z" fill="#ff7f0e"/>
<path d="M1702.4,195.9L1729.4,182.4L1729.4,209.4Z" fill="#ff7f0e"/>
<path d="M1829.1,118.9L1856.1,105.4L1856.1,132.4Z" fill="#ff7f0e"/>
<path d="M1960.1,248.2L1987.1,234.7L1987.1,261.7Z" fill="#ff7f0e"/>
<circle cx="1406.5" cy="273.1" r="12.9" fill="#1f77b4"/>
<circle cx="1442.9" cy="249.9" r="12.9" fill="#1f77b4"/>
<circle cx="1497.5" cy="269.2" r="12.9" fill="#1f77b4"/>
<circle cx="1552.1" cy="275.1" r="12.9" fill="#1f77b4"/>
<circle cx="1624.9" cy="315.7" r="12.9" fill="#1f77b4"/>
<circle cx="1715.9" cy="284.3" r="12.9" fill="#1f77b4"/>
<circle cx="1843.3" cy="293.1" r="12.9" fill="#1f77b4"/>
<circle cx="1974.4" cy="351.4" r="12.9" fill="#1f77b4"/>
<path d="M1406.5,224.5L1417.9,243.4L1406.5,262.4L1395.1,243.4Z" fill="#d62728"/>
<path d="M1442.9,188.4L1454.3,207.4L1442.9,226.4L1431.5,207.4Z" fill="#d62728"/>
<path d="M1497.5,170.3L1508.9,189.3L1497.5,208.3L1486.1,189.3Z" fill="#d62728"/>
<path d="M1552.1,157.4L1563.5,176.4L1552.1,195.4L1540.7,176.4Z" fill="#d62728"/>
<path d="M1624.9,150.9L1636.3,169.9L1624.9,188.9L1613.5,169.9Z" fill="#d62728"/>
<path d="M1716.7,175.9L1728.1,194.9L1716.7,213.9L1705.3,194.9Z" fill="#d62728"/>
<path d="M1843.3,276.7L1854.7,295.7L1843.3,314.7L1831.9,295.7Z" fill="#d62728"/>
<path d="M1970.4,308.8L1981.8,327.8L1970.4,346.8L1959,327.8Z" fill="#d62728"/>
</g>
<g id="fdata">
<path d="M1406.5,537V653.6M1398.9,537h15.2M1398.9,653.6h15.2M1442.9,573.3V603.4M1435.3,573.3h15.2M1435.3,603.4h15.2M1497.5,625.4V655.5M1489.9,625.4h15.2M1489.9,655.5h15.2M1552.1,639.5V677.1M1544.5,639.5h15.2M1544.5,677.1h15.2M1624.9,681.8V734.5M1617.3,681.8h15.2M1617.3,734.5h15.2M1715.9,691.5V729.1M1708.3,691.5h15.2M1708.3,729.1h15.2M1843.3,661.1V753.3M1835.7,661.1h15.2M1835.7,753.3h15.2M1974.4,614.4V721M1966.8,614.4h15.2M1966.8,721h15.2" stroke="#1f77b4" stroke-width="3.6" fill="none"/>
<path d="M1406.5,754.5V809.1M1398.9,754.5h15.2M1398.9,809.1h15.2M1442.9,691.2V719.4M1435.3,691.2h15.2M1435.3,719.4h15.2M1496.8,689.6V719.7M1489.2,689.6h15.2M1489.2,719.7h15.2M1551.4,662.1V693.4M1543.8,662.1h15.2M1543.8,693.4h15.2M1624.9,640.1V672.7M1617.3,640.1h15.2M1617.3,672.7h15.2M1715.9,629.5V670.8M1708.3,629.5h15.2M1708.3,670.8h15.2M1842.6,662.1V714.7M1835,662.1h15.2M1835,714.7h15.2M1973.6,623.8V707.8M1966,623.8h15.2M1966,707.8h15.2" stroke="#ff7f0e" stroke-width="3.6" fill="none"/>
<path d="M1406.5,621.6V655.5M1398.9,621.6h15.2M1398.9,655.5h15.2M1442.9,635.1V670.2M1435.3,635.1h15.2M1435.3,670.2h15.2M1497.5,647V680.9M1489.9,647h15.2M1489.9,680.9h15.2M1552.1,663.6V698.1M1544.5,663.6h15.2M1544.5,698.1h15.2M1624.9,675.2V712.8M1617.3,675.2h15.2M1617.3,712.8h15.2M1716.7,685.9V721M1709.1,685.9h15.2M1709.1,721h15.2M1843.3,698.7V760.8M1835.7,698.7h15.2M1835.7,760.8h15.2M1970.4,837.3V871.1M1962.8,837.3h15.2M1962.8,871.1h15.2" stroke="#d62728" stroke-width="3.6" fill="none"/>
<path d="M1406.5,595.3L1442.9,588.4L1497.5,640.4L1552.1,658.3L1624.9,708.1L1715.9,710.3L1843.3,707.2L1974.4,667.7" stroke="#1f77b4" stroke-width="5" stroke-dasharray="5.2 9.6" fill="none"/>
<path d="M1406.5,781.8L1442.9,705.3L1496.8,704.7L1551.4,677.7L1624.9,656.4L1715.9,650.1L1842.6,688.4L1973.6,665.8" stroke="#ff7f0e" stroke-width="5" stroke-dasharray="5.2 9.6" fill="none"/>
<path d="M1406.5,638.5L1442.9,652.7L1497.5,663.9L1552.1,680.9L1624.9,694L1716.7,703.4L1843.3,729.8L1970.4,854.2" stroke="#d62728" stroke-width="5" stroke-dasharray="5.2 9.6" fill="none"/>
<circle cx="1406.5" cy="595.3" r="12.9" fill="#1f77b4"/>
<circle cx="1442.9" cy="588.4" r="12.9" fill="#1f77b4"/>
<circle cx="1497.5" cy="640.4" r="12.9" fill="#1f77b4"/>
<circle cx="1552.1" cy="658.3" r="12.9" fill="#1f77b4"/>
<circle cx="1624.9" cy="708.1" r="12.9" fill="#1f77b4"/>
<circle cx="1715.9" cy="710.3" r="12.9" fill="#1f77b4"/>
<circle cx="1843.3" cy="707.2" r="12.9" fill="#1f77b4"/>
<circle cx="1974.4" cy="667.7" r="12.9" fill="#1f77b4"/>
<path d="M1393,781.8L1420,768.3L1420,795.3Z" fill="#ff7f0e"/>
<path d="M1429.4,705.3L1456.4,691.8L1456.4,718.8Z" fill="#ff7f0e"/>
<path d="M1483.3,704.7L1510.3,691.2L1510.3,718.2Z" fill="#ff7f0e"/>
<path d="M1537.9,677.7L1564.9,664.2L1564.9,691.2Z" fill="#ff7f0e"/>
<path d="M1611.4,656.4L1638.4,642.9L1638.4,669.9Z" fill="#ff7f0e"/>
<path d="M1702.4,650.1L1729.4,636.6L1729.4,663.6Z" fill="#ff7f0e"/>
<path d="M1829.1,688.4L1856.1,674.9L1856.1,701.9Z" fill="#ff7f0e"/>
<path d="M1960.1,665.8L1987.1,652.3L1987.1,679.3Z" fill="#ff7f0e"/>
<path d="M1406.5,619.6L1417.9,638.5L1406.5,657.5L1395.1,638.5Z" fill="#d62728"/>
<path d="M1442.9,633.7L1454.3,652.7L1442.9,671.6L1431.5,652.7Z" fill="#d62728"/>
<path d="M1497.5,645L1508.9,663.9L1497.5,682.9L1486.1,663.9Z" fill="#d62728"/>
<path d="M1552.1,661.9L1563.5,680.9L1552.1,699.8L1540.7,680.9Z" fill="#d62728"/>
<path d="M1624.9,675L1636.3,694L1624.9,713L1613.5,694Z" fill="#d62728"/>
<path d="M1716.7,684.4L1728.1,703.4L1716.7,722.4L1705.3,703.4Z" fill="#d62728"/>
<path d="M1843.3,710.8L1854.7,729.8L1843.3,748.7L1831.9,729.8Z" fill="#d62728"/>
<path d="M1970.4,835.2L1981.8,854.2L1970.4,873.2L1959,854.2Z" fill="#d62728"/>
</g>
<g id="elegend">
<path d="M1388,43h40.2" stroke="#d62728" stroke-width="4.2" stroke-dasharray="2 2.3" fill="none"/>
<path d="M1405.7,31.6L1412.6,43L1405.7,54.4L1398.8,43Z" fill="#d62728"/>
<text x="1438.5" y="55.2" font-family='"DejaVu Sans", "Liberation Sans", sans-serif' font-size="37.5" text-anchor="start" fill="#d62728" letter-spacing="0.6">India ink</text>
<path d="M1388,77h40.2" stroke="#ff7f0e" stroke-width="4.2" stroke-dasharray="2 2.3" fill="none"/>
<path d="M1398.6,77L1415,68.8L1415,85.2Z" fill="#ff7f0e"/>
<text x="1439.5" y="89.2" font-family='"DejaVu Sans", "Liberation Sans", sans-serif' font-size="37.5" text-anchor="start" fill="#ff7f0e" letter-spacing="-0.5">MBink</text>
<path d="M1388,110.2h40.2" stroke="#000" stroke-width="4.2" stroke-dasharray="2 2.3" fill="none"/>
<rect x="1399.4" y="103.8" width="12.8" height="12.8" fill="#000"/>
<text x="1440.4" y="122.5" font-family='"DejaVu Sans", "Liberation Sans", sans-serif' font-size="37.5" text-anchor="start" fill="#000">Water</text>
<path d="M1388,144.5h40.2" stroke="#1f77b4" stroke-width="4.2" stroke-dasharray="2 2.3" fill="none"/>
<circle cx="1407.2" cy="144.5" r="7.6" fill="#1f77b4"/>
<text x="1439.9" y="156.6" font-family='"DejaVu Sans", "Liberation Sans", sans-serif' font-size="37.5" text-anchor="start" fill="#1f77b4" letter-spacing="-1.4">MB</text>
</g>
<g id="flegend">
<path d="M1575.6,775.3h40.2" stroke="#1f77b4" stroke-width="4.2" stroke-dasharray="2 2.3" fill="none"/>
<circle cx="1594.5" cy="775.3" r="7.4" fill="#1f77b4"/>
<text x="1626.3" y="787.2" font-family='"DejaVu Sans", "Liberation Sans", sans-serif' font-size="37.5" text-anchor="start" fill="#1f77b4">MB</text>
<path d="M1575.6,817.7h40.2" stroke="#ff7f0e" stroke-width="4.2" stroke-dasharray="2 2.3" fill="none"/>
<path d="M1586.2,817.7L1602.6,809.6L1602.6,825.9Z" fill="#ff7f0e"/>
<text x="1626.3" y="830.1" font-family='"DejaVu Sans", "Liberation Sans", sans-serif' font-size="37.5" text-anchor="start" fill="#ff7f0e" letter-spacing="-0.25">MBink</text>
<path d="M1575.6,861.1h40.2" stroke="#d62728" stroke-width="4.2" stroke-dasharray="2 2.3" fill="none"/>
<path d="M1593.1,849.7L1600,861.1L1593.1,872.5L1586.2,861.1Z" fill="#d62728"/>
<text x="1626.6" y="872.9" font-family='"DejaVu Sans", "Liberation Sans", sans-serif' font-size="37.5" text-anchor="start" fill="#d62728" letter-spacing="0.65">India ink</text>
</g>
<text x="1277.5" y="460.8" font-family='"Liberation Sans", "DejaVu Sans", sans-serif' font-size="52" text-anchor="start" fill="#000" font-weight="bold">e)</text>
<text x="1288.8" y="994" font-family='"Liberation Sans", "DejaVu Sans", sans-serif' font-size="52" text-anchor="start" fill="#000" font-weight="bold">f)</text>
</svg>
</body></html>
